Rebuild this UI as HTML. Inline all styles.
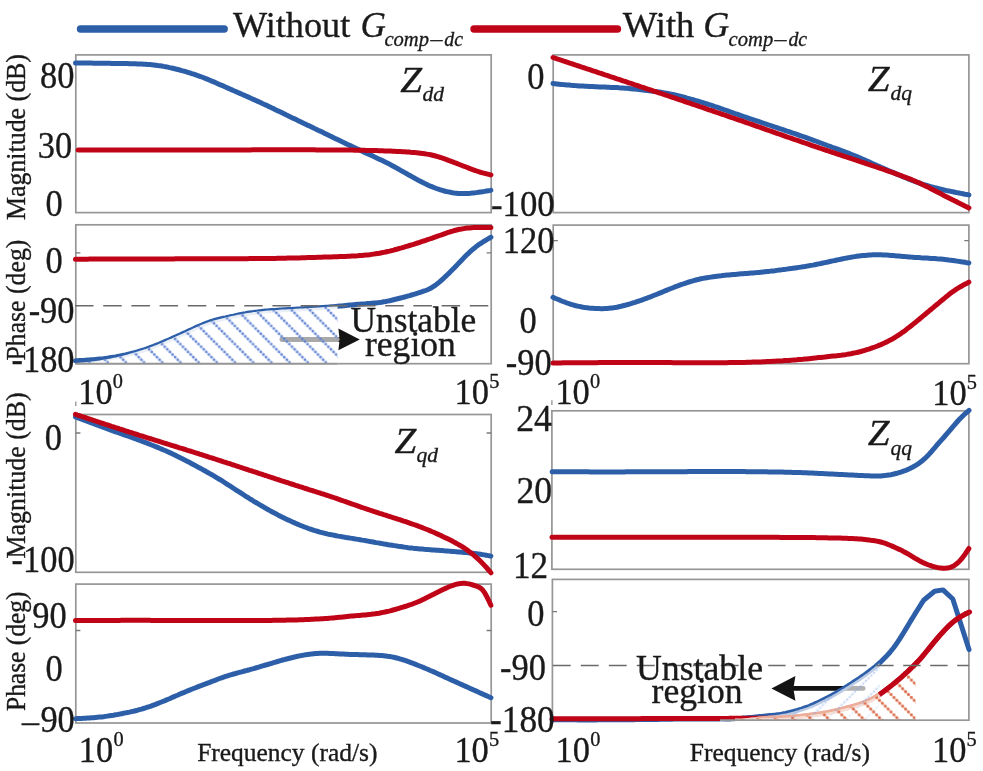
<!DOCTYPE html>
<html lang="en">
<head>
<meta charset="utf-8">
<title>Bode plots of impedance matrix</title>
<style>html,body{margin:0;padding:0;background:#fff}svg{display:block}</style>
</head>
<body>
<svg width="983" height="771" viewBox="0 0 983 771" font-family="'Liberation Serif', serif" fill="#1a1a1a">
<defs>
<pattern id="hb" patternUnits="userSpaceOnUse" x="18.00" y="0" width="18.18" height="18.18"><path d="M-18.18 0L0.00 18.18" stroke="#7d9fe2" stroke-width="3.1" opacity="0.28" fill="none"/><path d="M0.00 0L18.18 18.18" stroke="#7d9fe2" stroke-width="3.1" opacity="0.28" fill="none"/><path d="M18.18 0L36.36 18.18" stroke="#7d9fe2" stroke-width="3.1" opacity="0.28" fill="none"/><rect x="0.20" y="0.20" width="2.2" height="2.2" fill="#5577cc" opacity="0.88"/><rect x="2.80" y="2.80" width="2.2" height="2.2" fill="#5577cc" opacity="0.88"/><rect x="5.39" y="5.39" width="2.2" height="2.2" fill="#5577cc" opacity="0.88"/><rect x="7.99" y="7.99" width="2.2" height="2.2" fill="#5577cc" opacity="0.88"/><rect x="10.59" y="10.59" width="2.2" height="2.2" fill="#5577cc" opacity="0.88"/><rect x="13.18" y="13.18" width="2.2" height="2.2" fill="#5577cc" opacity="0.88"/><rect x="15.78" y="15.78" width="2.2" height="2.2" fill="#5577cc" opacity="0.88"/></pattern>
<pattern id="hr" patternUnits="userSpaceOnUse" x="5.10" y="0" width="17.4" height="17.4"><path d="M-17.40 0L0.00 17.40" stroke="#e58a68" stroke-width="2.8" opacity="0.32" fill="none"/><path d="M0.00 0L17.40 17.40" stroke="#e58a68" stroke-width="2.8" opacity="0.32" fill="none"/><path d="M17.40 0L34.80 17.40" stroke="#e58a68" stroke-width="2.8" opacity="0.32" fill="none"/><rect x="0.25" y="0.25" width="2.4" height="2.4" fill="#d65a36" opacity="0.95"/><rect x="3.15" y="3.15" width="2.4" height="2.4" fill="#d65a36" opacity="0.95"/><rect x="6.05" y="6.05" width="2.4" height="2.4" fill="#d65a36" opacity="0.95"/><rect x="8.95" y="8.95" width="2.4" height="2.4" fill="#d65a36" opacity="0.95"/><rect x="11.85" y="11.85" width="2.4" height="2.4" fill="#d65a36" opacity="0.95"/><rect x="14.75" y="14.75" width="2.4" height="2.4" fill="#d65a36" opacity="0.95"/></pattern>
<pattern id="hb2" patternUnits="userSpaceOnUse" x="5.10" y="0" width="18.8" height="18.8"><path d="M-18.80 18.80L0.00 0" stroke="#9db8ec" stroke-width="2.8" opacity="0.1" fill="none"/><path d="M0.00 18.80L18.80 0" stroke="#9db8ec" stroke-width="2.8" opacity="0.1" fill="none"/><path d="M18.80 18.80L37.60 0" stroke="#9db8ec" stroke-width="2.8" opacity="0.1" fill="none"/><rect x="0.44" y="16.56" width="1.8" height="1.8" fill="#7d9fe2" opacity="0.42"/><rect x="3.13" y="13.87" width="1.8" height="1.8" fill="#7d9fe2" opacity="0.42"/><rect x="5.81" y="11.19" width="1.8" height="1.8" fill="#7d9fe2" opacity="0.42"/><rect x="8.50" y="8.50" width="1.8" height="1.8" fill="#7d9fe2" opacity="0.42"/><rect x="11.19" y="5.81" width="1.8" height="1.8" fill="#7d9fe2" opacity="0.42"/><rect x="13.87" y="3.13" width="1.8" height="1.8" fill="#7d9fe2" opacity="0.42"/><rect x="16.56" y="0.44" width="1.8" height="1.8" fill="#7d9fe2" opacity="0.42"/></pattern>
</defs>
<rect x="0" y="0" width="983" height="771" fill="#ffffff"/>
<line x1="80.5" y1="29.0" x2="224.2" y2="29.0" stroke="#2d5fa9" stroke-width="7.4" stroke-linecap="round"/>
<line x1="474" y1="29.0" x2="617.5" y2="29.0" stroke="#c00418" stroke-width="7.4" stroke-linecap="round"/>
<text x="233.0" y="36.9" font-size="36.8" textLength="117.2" lengthAdjust="spacingAndGlyphs" stroke="#1a1a1a" stroke-width="0.35">Without</text>
<text x="360.6" y="36.9" font-size="36.8" font-style="italic" textLength="25.4" lengthAdjust="spacingAndGlyphs" stroke="#1a1a1a" stroke-width="0.35">G</text>
<text x="384.4" y="45.9" font-size="22" font-style="italic" textLength="44.6" lengthAdjust="spacingAndGlyphs" stroke="#1a1a1a" stroke-width="0.35">comp</text>
<text x="430.4" y="45.9" font-size="22" font-style="italic" textLength="12.0" lengthAdjust="spacingAndGlyphs" stroke="#1a1a1a" stroke-width="0.35">–</text>
<text x="444.2" y="45.9" font-size="22" font-style="italic" textLength="18.8" lengthAdjust="spacingAndGlyphs" stroke="#1a1a1a" stroke-width="0.35">dc</text>
<text x="728.5999999999999" y="45.6" font-size="22" font-style="italic" textLength="44.6" lengthAdjust="spacingAndGlyphs" stroke="#1a1a1a" stroke-width="0.35">comp</text>
<text x="774.5999999999999" y="45.6" font-size="22" font-style="italic" textLength="12.0" lengthAdjust="spacingAndGlyphs" stroke="#1a1a1a" stroke-width="0.35">–</text>
<text x="788.4" y="45.6" font-size="22" font-style="italic" textLength="18.8" lengthAdjust="spacingAndGlyphs" stroke="#1a1a1a" stroke-width="0.35">dc</text>
<text x="622.8" y="37.0" font-size="36.5" textLength="71.6" lengthAdjust="spacingAndGlyphs" stroke="#1a1a1a" stroke-width="0.35">With</text>
<text x="703.2" y="37.0" font-size="36.8" font-style="italic" textLength="26.0" lengthAdjust="spacingAndGlyphs" stroke="#1a1a1a" stroke-width="0.35">G</text>
<rect x="75.8" y="54.9" width="415.4" height="157.7" fill="none" stroke="#969696" stroke-width="1.7"/>
<rect x="75.8" y="224.8" width="415.4" height="138.9" fill="none" stroke="#969696" stroke-width="1.7"/>
<rect x="75.8" y="414.5" width="415.4" height="157.8" fill="none" stroke="#969696" stroke-width="1.7"/>
<rect x="75.8" y="584.1" width="415.4" height="138.9" fill="none" stroke="#969696" stroke-width="1.7"/>
<rect x="553.2" y="54.9" width="415.7" height="157.7" fill="none" stroke="#969696" stroke-width="1.7"/>
<rect x="553.2" y="225.1" width="415.7" height="138.6" fill="none" stroke="#969696" stroke-width="1.7"/>
<rect x="551.9" y="410.8" width="417.0" height="158.5" fill="none" stroke="#969696" stroke-width="1.7"/>
<rect x="552.4" y="579.4" width="416.5" height="140.8" fill="none" stroke="#969696" stroke-width="1.7"/>
<path d="M75.8 252.8h4.6M491.2 252.8h-4.6" stroke="#7a7a7a" stroke-width="1.3" fill="none"/>
<path d="M75.8 433.0h4.6M491.2 433.0h-4.6" stroke="#7a7a7a" stroke-width="1.3" fill="none"/>
<path d="M75.8 630.5h4.6M491.2 630.5h-4.6" stroke="#7a7a7a" stroke-width="1.3" fill="none"/>
<path d="M553.2 240.7h4.6M968.9 240.7h-4.6" stroke="#7a7a7a" stroke-width="1.3" fill="none"/>
<path d="M552.4 611.7h4.6M968.9 611.7h-4.6" stroke="#7a7a7a" stroke-width="1.3" fill="none"/>
<path d="M75.8 401.4v4.6M551.9 400.3v4.6" stroke="#8a8a8a" stroke-width="1.2" fill="none"/>
<line x1="281.9" y1="339.5" x2="340" y2="339.5" stroke="#111" stroke-width="4.8" stroke-linecap="round"/>
<line x1="794" y1="688.4" x2="863.2" y2="688.4" stroke="#111" stroke-width="4.7" stroke-linecap="round"/>
<path d="M75.5 63.0L77.5 63.0L79.5 63.0L81.5 63.1L83.5 63.1L85.5 63.1L87.5 63.1L89.5 63.1L91.5 63.1L93.5 63.2L95.5 63.2L97.6 63.2L99.6 63.2L101.6 63.2L103.6 63.3L105.6 63.3L107.6 63.3L109.6 63.3L111.6 63.4L113.6 63.4L115.6 63.4L117.6 63.4L119.6 63.5L121.6 63.5L123.6 63.5L125.6 63.6L127.6 63.6L129.6 63.7L131.6 63.7L133.6 63.8L135.6 63.8L137.6 63.9L139.7 64.0L141.7 64.1L143.7 64.2L145.7 64.3L147.7 64.5L149.7 64.6L151.7 64.8L153.7 65.0L155.7 65.2L157.7 65.5L159.7 65.7L161.7 66.0L163.7 66.4L165.7 66.7L167.7 67.1L169.7 67.6L171.7 68.0L173.7 68.5L175.7 69.0L177.7 69.5L179.8 70.0L181.8 70.6L183.8 71.1L185.8 71.7L187.8 72.3L189.8 72.9L191.8 73.6L193.8 74.2L195.8 74.9L197.8 75.6L199.8 76.3L201.8 77.0L203.8 77.8L205.8 78.6L207.8 79.4L209.8 80.2L211.8 81.1L213.8 81.9L215.8 82.8L217.8 83.7L219.8 84.6L221.9 85.4L223.9 86.3L225.9 87.2L227.9 88.1L229.9 89.0L231.9 89.9L233.9 90.8L235.9 91.6L237.9 92.5L239.9 93.4L241.9 94.3L243.9 95.1L245.9 96.0L247.9 96.9L249.9 97.8L251.9 98.7L253.9 99.6L255.9 100.5L257.9 101.4L259.9 102.3L261.9 103.3L264.0 104.2L266.0 105.1L268.0 106.1L270.0 107.0L272.0 108.0L274.0 108.9L276.0 109.9L278.0 110.9L280.0 111.8L282.0 112.8L284.0 113.8L286.0 114.8L288.0 115.7L290.0 116.7L292.0 117.7L294.0 118.6L296.0 119.6L298.0 120.6L300.0 121.5L302.0 122.5L304.0 123.5L306.1 124.4L308.1 125.4L310.1 126.3L312.1 127.3L314.1 128.3L316.1 129.2L318.1 130.2L320.1 131.1L322.1 132.1L324.1 133.1L326.1 134.0L328.1 135.0L330.1 136.0L332.1 136.9L334.1 137.9L336.1 138.9L338.1 139.8L340.1 140.8L342.1 141.8L344.1 142.7L346.1 143.7L348.2 144.7L350.2 145.6L352.2 146.6L354.2 147.5L356.2 148.5L358.2 149.4L360.2 150.3L362.2 151.2L364.2 152.2L366.2 153.1L368.2 154.0L370.2 154.9L372.2 155.8L374.2 156.8L376.2 157.7L378.2 158.7L380.2 159.6L382.2 160.6L384.2 161.6L386.2 162.6L388.3 163.6L390.3 164.6L392.3 165.7L394.3 166.8L396.3 167.9L398.3 169.0L400.3 170.1L402.3 171.3L404.3 172.4L406.3 173.5L408.3 174.7L410.3 175.8L412.3 176.9L414.3 178.0L416.3 179.1L418.3 180.2L420.3 181.2L422.3 182.3L424.3 183.3L426.3 184.2L428.3 185.2L430.4 186.1L432.4 186.9L434.4 187.7L436.4 188.5L438.4 189.2L440.4 189.8L442.4 190.4L444.4 191.0L446.4 191.5L448.4 191.9L450.4 192.3L452.4 192.7L454.4 193.0L456.4 193.2L458.4 193.4L460.4 193.5L462.4 193.6L464.4 193.6L466.4 193.6L468.4 193.4L470.4 193.3L472.5 193.1L474.5 192.9L476.5 192.6L478.5 192.3L480.5 192.0L482.5 191.7L484.5 191.4L486.5 191.0L488.5 190.7L490.5 190.4L490.9 190.3" fill="none" stroke="#2d5fa9" stroke-width="5.0" stroke-linecap="round" stroke-linejoin="round"/>
<path d="M78.2 150.0L80.2 150.0L82.2 150.0L84.2 150.0L86.2 150.0L88.2 150.0L90.2 150.0L92.2 150.0L94.2 150.0L96.2 150.0L98.2 150.0L100.2 150.0L102.2 150.0L104.2 150.0L106.2 150.0L108.2 150.0L110.2 150.0L112.2 150.0L114.2 150.0L116.2 150.0L118.2 150.0L120.3 150.0L122.3 150.0L124.3 150.0L126.3 150.0L128.3 150.0L130.3 150.0L132.3 150.0L134.3 150.1L136.3 150.1L138.3 150.1L140.3 150.1L142.3 150.1L144.3 150.1L146.3 150.1L148.3 150.1L150.3 150.1L152.3 150.1L154.3 150.1L156.3 150.1L158.3 150.1L160.3 150.1L162.3 150.1L164.3 150.0L166.3 150.0L168.3 150.0L170.3 150.0L172.3 150.0L174.3 150.0L176.3 150.0L178.3 150.0L180.3 150.0L182.3 150.0L184.3 150.0L186.3 150.0L188.3 150.0L190.3 150.0L192.3 150.0L194.3 150.0L196.3 150.0L198.3 150.0L200.3 150.0L202.3 150.0L204.4 150.0L206.4 150.0L208.4 150.0L210.4 150.0L212.4 150.0L214.4 150.0L216.4 150.0L218.4 150.0L220.4 149.9L222.4 149.9L224.4 149.9L226.4 149.9L228.4 149.9L230.4 149.9L232.4 149.9L234.4 149.9L236.4 149.9L238.4 149.9L240.4 149.9L242.4 149.9L244.4 149.9L246.4 149.9L248.4 149.9L250.4 149.9L252.4 149.8L254.4 149.8L256.4 149.8L258.4 149.8L260.4 149.8L262.4 149.8L264.4 149.8L266.4 149.8L268.4 149.8L270.4 149.8L272.4 149.8L274.4 149.8L276.4 149.8L278.4 149.8L280.4 149.8L282.4 149.8L284.4 149.8L286.5 149.8L288.5 149.8L290.5 149.8L292.5 149.8L294.5 149.8L296.5 149.8L298.5 149.8L300.5 149.8L302.5 149.8L304.5 149.8L306.5 149.8L308.5 149.8L310.5 149.8L312.5 149.8L314.5 149.8L316.5 149.9L318.5 149.9L320.5 149.9L322.5 149.9L324.5 149.9L326.5 149.9L328.5 149.9L330.5 149.9L332.5 149.9L334.5 150.0L336.5 150.0L338.5 150.0L340.5 150.0L342.5 150.0L344.5 150.0L346.5 150.1L348.5 150.1L350.5 150.1L352.5 150.1L354.5 150.2L356.5 150.2L358.5 150.2L360.5 150.2L362.5 150.3L364.5 150.3L366.5 150.4L368.6 150.4L370.6 150.4L372.6 150.5L374.6 150.5L376.6 150.6L378.6 150.7L380.6 150.7L382.6 150.8L384.6 150.9L386.6 150.9L388.6 151.0L390.6 151.1L392.6 151.2L394.6 151.3L396.6 151.4L398.6 151.5L400.6 151.6L402.6 151.7L404.6 151.8L406.6 152.0L408.6 152.1L410.6 152.3L412.6 152.4L414.6 152.6L416.6 152.8L418.6 153.0L420.6 153.2L422.6 153.5L424.6 153.8L426.6 154.1L428.6 154.4L430.6 154.8L432.6 155.3L434.6 155.8L436.6 156.3L438.6 156.9L440.6 157.5L442.6 158.2L444.6 158.9L446.6 159.6L448.6 160.4L450.6 161.1L452.7 161.9L454.7 162.7L456.7 163.4L458.7 164.2L460.7 165.0L462.7 165.8L464.7 166.5L466.7 167.3L468.7 168.1L470.7 168.9L472.7 169.6L474.7 170.3L476.7 171.0L478.7 171.7L480.7 172.3L482.7 172.9L484.7 173.4L486.7 173.9L488.7 174.4L490.7 174.9L490.9 175.0" fill="none" stroke="#c00418" stroke-width="5.0" stroke-linecap="round" stroke-linejoin="round"/>
<path d="M75.5 259.2L77.5 259.2L79.5 259.2L81.5 259.2L83.5 259.2L85.5 259.2L87.5 259.2L89.5 259.1L91.5 259.1L93.5 259.1L95.5 259.1L97.5 259.1L99.5 259.1L101.5 259.1L103.5 259.1L105.5 259.1L107.5 259.1L109.5 259.1L111.5 259.1L113.5 259.0L115.5 259.0L117.5 259.0L119.5 259.0L121.5 259.0L123.5 259.0L125.5 259.0L127.5 259.0L129.5 259.0L131.5 259.0L133.5 259.0L135.5 259.0L137.5 259.0L139.5 259.0L141.5 258.9L143.5 258.9L145.5 258.9L147.5 258.9L149.5 258.9L151.5 258.9L153.5 258.9L155.5 258.9L157.5 258.9L159.5 258.9L161.5 258.9L163.5 258.9L165.5 258.9L167.5 258.9L169.5 258.9L171.5 258.9L173.5 258.9L175.5 258.8L177.5 258.8L179.5 258.8L181.5 258.8L183.5 258.8L185.5 258.8L187.5 258.8L189.5 258.8L191.5 258.8L193.5 258.8L195.5 258.8L197.5 258.8L199.5 258.8L201.5 258.8L203.5 258.8L205.5 258.8L207.5 258.8L209.5 258.8L211.5 258.8L213.5 258.8L215.5 258.8L217.5 258.8L219.5 258.8L221.5 258.8L223.5 258.8L225.5 258.8L227.5 258.8L229.5 258.7L231.5 258.7L233.5 258.7L235.5 258.7L237.5 258.7L239.5 258.7L241.5 258.7L243.5 258.7L245.5 258.7L247.5 258.7L249.5 258.6L251.5 258.6L253.5 258.6L255.5 258.6L257.5 258.6L259.5 258.6L261.5 258.5L263.5 258.5L265.5 258.5L267.5 258.5L269.5 258.4L271.5 258.4L273.5 258.4L275.5 258.4L277.5 258.3L279.5 258.3L281.5 258.3L283.6 258.2L285.6 258.2L287.6 258.1L289.6 258.1L291.6 258.1L293.6 258.0L295.6 258.0L297.6 257.9L299.6 257.9L301.6 257.8L303.6 257.7L305.6 257.7L307.6 257.6L309.6 257.6L311.6 257.5L313.6 257.5L315.6 257.4L317.6 257.3L319.6 257.3L321.6 257.2L323.6 257.1L325.6 257.1L327.6 257.0L329.6 257.0L331.6 256.9L333.6 256.8L335.6 256.8L337.6 256.7L339.6 256.6L341.6 256.6L343.6 256.5L345.6 256.4L347.6 256.3L349.6 256.2L351.6 256.1L353.6 256.0L355.6 255.9L357.6 255.8L359.6 255.6L361.6 255.5L363.6 255.3L365.6 255.1L367.6 254.9L369.6 254.7L371.6 254.4L373.6 254.1L375.6 253.8L377.6 253.5L379.6 253.2L381.6 252.8L383.6 252.4L385.6 252.0L387.6 251.5L389.6 251.1L391.6 250.6L393.6 250.1L395.6 249.5L397.6 249.0L399.6 248.4L401.6 247.9L403.6 247.3L405.6 246.7L407.6 246.1L409.6 245.5L411.6 244.9L413.6 244.3L415.6 243.6L417.6 243.0L419.6 242.4L421.6 241.7L423.6 241.0L425.6 240.4L427.6 239.7L429.6 239.0L431.6 238.3L433.6 237.6L435.6 236.9L437.6 236.2L439.6 235.5L441.6 234.8L443.6 234.1L445.6 233.4L447.6 232.7L449.6 232.0L451.6 231.4L453.6 230.8L455.6 230.3L457.6 229.8L459.6 229.3L461.6 229.0L463.6 228.6L465.6 228.3L467.6 228.1L469.6 227.9L471.6 227.7L473.6 227.6L475.6 227.5L477.6 227.4L479.6 227.4L481.6 227.4L483.6 227.4L485.6 227.4L487.6 227.4L489.6 227.4L490.9 227.4" fill="none" stroke="#c00418" stroke-width="5.0" stroke-linecap="round" stroke-linejoin="round"/>
<path d="M75.5 360.8L77.5 360.7L79.5 360.6L81.5 360.5L83.5 360.4L85.5 360.2L87.5 360.1L89.5 360.0L91.5 359.8L93.5 359.7L95.5 359.5L97.5 359.3L99.5 359.1L101.5 358.9L103.5 358.7L105.5 358.4L107.5 358.1L109.5 357.8L111.5 357.5L113.5 357.2L115.5 356.9L117.5 356.5L119.5 356.1L121.5 355.7L123.5 355.3L125.5 354.9L127.5 354.4L129.5 353.9L131.5 353.4L133.5 352.9L135.5 352.4L137.5 351.8L139.5 351.2L141.5 350.6L143.5 350.0L145.5 349.3L147.5 348.6L149.5 347.9L151.5 347.1L153.5 346.4L155.5 345.6L157.5 344.8L159.5 344.0L161.5 343.1L163.5 342.3L165.5 341.4L167.5 340.6L169.5 339.7L171.5 338.8L173.5 337.9L175.5 337.0L177.5 336.1L179.5 335.2L181.5 334.3L183.5 333.4L185.5 332.5L187.5 331.5L189.5 330.6L191.5 329.7L193.5 328.8L195.5 327.8L197.5 326.9L199.5 326.1L201.5 325.2L203.5 324.4L205.5 323.6L207.5 322.8L209.5 322.1L211.5 321.4L213.5 320.8L215.5 320.3L217.5 319.8L219.5 319.3L221.5 318.8L223.5 318.3L225.5 317.9L227.5 317.4L229.5 317.0L231.5 316.5L233.5 316.1L235.5 315.6L237.5 315.2L239.5 314.8L241.5 314.4L243.5 314.0L245.5 313.7L247.5 313.3L249.5 313.0L251.5 312.7L253.5 312.5L255.5 312.2L257.5 312.0L259.5 311.7L261.5 311.5L263.5 311.3L265.5 311.1L267.5 311.0L269.5 310.8L271.5 310.6L273.5 310.5L275.5 310.4L277.5 310.2L279.5 310.1L281.5 310.0L283.6 309.8L285.6 309.7L287.6 309.6L289.6 309.5L291.6 309.4L293.6 309.3L295.6 309.2L297.6 309.0L299.6 308.9L301.6 308.8L303.6 308.7L305.6 308.6L307.6 308.5L309.6 308.3L311.6 308.2L313.6 308.1L315.6 308.0L317.6 307.9L319.6 307.7L321.6 307.6L323.6 307.5L325.6 307.3L327.6 307.2L329.6 307.0L331.6 306.8L333.6 306.7L335.6 306.5L337.6 306.3L339.6 306.1L341.6 305.9L343.6 305.7L345.6 305.5L347.6 305.3L349.6 305.1L351.6 304.9L353.6 304.7L355.6 304.5L357.6 304.3L359.6 304.2L361.6 304.0L363.6 303.9L365.6 303.8L367.6 303.6L369.6 303.5L371.6 303.3L373.6 303.1L375.6 302.9L377.6 302.7L379.6 302.5L381.6 302.2L383.6 301.8L385.6 301.5L387.6 301.1L389.6 300.7L391.6 300.3L393.6 299.8L395.6 299.3L397.6 298.8L399.6 298.3L401.6 297.8L403.6 297.2L405.6 296.7L407.6 296.1L409.6 295.6L411.6 295.0L413.6 294.4L415.6 293.8L417.6 293.2L419.6 292.5L421.6 291.9L423.6 291.2L425.6 290.5L427.6 289.7L429.6 288.8L431.6 287.7L433.6 286.4L435.6 285.1L437.6 283.5L439.6 281.9L441.6 280.1L443.6 278.3L445.6 276.4L447.6 274.5L449.6 272.6L451.6 270.6L453.6 268.6L455.6 266.5L457.6 264.4L459.6 262.3L461.6 260.2L463.6 258.1L465.6 256.1L467.6 254.1L469.6 252.2L471.6 250.4L473.6 248.7L475.6 247.1L477.6 245.6L479.6 244.1L481.6 242.8L483.6 241.5L485.6 240.3L487.6 239.1L489.6 238.0L490.9 237.3" fill="none" stroke="#2d5fa9" stroke-width="5.0" stroke-linecap="round" stroke-linejoin="round"/>
<path d="M75.5 417.0L77.5 417.7L79.5 418.5L81.5 419.2L83.5 419.9L85.5 420.7L87.5 421.4L89.5 422.1L91.5 422.9L93.5 423.6L95.5 424.4L97.5 425.1L99.6 425.9L101.6 426.6L103.6 427.4L105.6 428.1L107.6 428.9L109.6 429.6L111.6 430.4L113.6 431.1L115.6 431.8L117.6 432.5L119.6 433.2L121.6 433.9L123.6 434.6L125.6 435.3L127.6 436.0L129.6 436.7L131.6 437.4L133.6 438.1L135.6 438.8L137.6 439.6L139.6 440.3L141.6 441.1L143.6 441.8L145.7 442.6L147.7 443.4L149.7 444.2L151.7 445.0L153.7 445.8L155.7 446.6L157.7 447.4L159.7 448.3L161.7 449.1L163.7 450.0L165.7 450.8L167.7 451.7L169.7 452.6L171.7 453.5L173.7 454.5L175.7 455.4L177.7 456.4L179.7 457.4L181.7 458.4L183.7 459.5L185.7 460.5L187.7 461.6L189.7 462.6L191.8 463.7L193.8 464.8L195.8 465.9L197.8 467.0L199.8 468.0L201.8 469.1L203.8 470.2L205.8 471.3L207.8 472.5L209.8 473.6L211.8 474.7L213.8 475.9L215.8 477.1L217.8 478.3L219.8 479.5L221.8 480.7L223.8 482.0L225.8 483.3L227.8 484.6L229.8 485.8L231.8 487.2L233.8 488.5L235.8 489.8L237.9 491.1L239.9 492.4L241.9 493.7L243.9 495.0L245.9 496.3L247.9 497.5L249.9 498.8L251.9 500.0L253.9 501.3L255.9 502.5L257.9 503.7L259.9 504.9L261.9 506.0L263.9 507.2L265.9 508.3L267.9 509.5L269.9 510.6L271.9 511.7L273.9 512.8L275.9 513.8L277.9 514.9L279.9 515.9L281.9 516.9L284.0 517.9L286.0 518.9L288.0 519.9L290.0 520.8L292.0 521.7L294.0 522.6L296.0 523.5L298.0 524.4L300.0 525.2L302.0 526.0L304.0 526.8L306.0 527.5L308.0 528.3L310.0 529.0L312.0 529.6L314.0 530.3L316.0 530.9L318.0 531.5L320.0 532.1L322.0 532.6L324.0 533.1L326.0 533.6L328.0 534.1L330.0 534.5L332.1 534.9L334.1 535.3L336.1 535.7L338.1 536.1L340.1 536.4L342.1 536.8L344.1 537.1L346.1 537.5L348.1 537.8L350.1 538.1L352.1 538.4L354.1 538.8L356.1 539.1L358.1 539.4L360.1 539.7L362.1 540.1L364.1 540.4L366.1 540.8L368.1 541.1L370.1 541.5L372.1 541.8L374.1 542.2L376.1 542.6L378.2 542.9L380.2 543.3L382.2 543.6L384.2 544.0L386.2 544.3L388.2 544.7L390.2 545.0L392.2 545.3L394.2 545.6L396.2 545.9L398.2 546.3L400.2 546.5L402.2 546.8L404.2 547.1L406.2 547.4L408.2 547.7L410.2 547.9L412.2 548.1L414.2 548.4L416.2 548.6L418.2 548.8L420.2 549.0L422.2 549.1L424.3 549.3L426.3 549.4L428.3 549.6L430.3 549.7L432.3 549.9L434.3 550.0L436.3 550.2L438.3 550.3L440.3 550.5L442.3 550.6L444.3 550.8L446.3 550.9L448.3 551.1L450.3 551.2L452.3 551.4L454.3 551.6L456.3 551.7L458.3 551.9L460.3 552.1L462.3 552.2L464.3 552.4L466.3 552.6L468.3 552.8L470.4 553.0L472.4 553.2L474.4 553.4L476.4 553.7L478.4 554.0L480.4 554.3L482.4 554.6L484.4 554.9L486.4 555.3L488.4 555.6L490.4 556.0L490.9 556.1" fill="none" stroke="#2d5fa9" stroke-width="5.0" stroke-linecap="round" stroke-linejoin="round"/>
<path d="M75.5 414.4L77.5 415.1L79.5 415.7L81.5 416.4L83.5 417.0L85.5 417.7L87.5 418.4L89.5 419.0L91.5 419.7L93.5 420.3L95.5 421.0L97.5 421.7L99.5 422.3L101.5 423.0L103.5 423.6L105.5 424.3L107.5 424.9L109.5 425.6L111.5 426.3L113.5 426.9L115.5 427.6L117.5 428.2L119.5 428.9L121.5 429.5L123.5 430.1L125.5 430.8L127.5 431.4L129.5 432.1L131.5 432.7L133.5 433.4L135.5 434.0L137.5 434.6L139.5 435.3L141.5 435.9L143.5 436.5L145.5 437.2L147.5 437.8L149.5 438.4L151.5 439.0L153.5 439.7L155.5 440.3L157.5 440.9L159.5 441.5L161.5 442.2L163.5 442.8L165.5 443.4L167.5 444.0L169.5 444.7L171.5 445.3L173.5 445.9L175.5 446.5L177.5 447.1L179.5 447.8L181.6 448.4L183.6 449.0L185.6 449.6L187.6 450.3L189.6 450.9L191.6 451.5L193.6 452.2L195.6 452.8L197.6 453.4L199.6 454.1L201.6 454.7L203.6 455.3L205.6 456.0L207.6 456.6L209.6 457.3L211.6 457.9L213.6 458.5L215.6 459.2L217.6 459.8L219.6 460.5L221.6 461.1L223.6 461.8L225.6 462.4L227.6 463.1L229.6 463.7L231.6 464.4L233.6 465.0L235.6 465.7L237.6 466.3L239.6 467.0L241.6 467.7L243.6 468.3L245.6 469.0L247.6 469.6L249.6 470.3L251.6 470.9L253.6 471.6L255.6 472.2L257.6 472.9L259.6 473.6L261.6 474.2L263.6 474.9L265.6 475.5L267.6 476.2L269.6 476.8L271.6 477.5L273.6 478.1L275.6 478.8L277.6 479.5L279.6 480.1L281.6 480.8L283.6 481.4L285.6 482.1L287.6 482.7L289.6 483.4L291.6 484.0L293.6 484.6L295.6 485.3L297.6 485.9L299.6 486.6L301.6 487.2L303.6 487.9L305.6 488.5L307.6 489.1L309.6 489.8L311.6 490.4L313.6 491.0L315.6 491.7L317.6 492.3L319.6 492.9L321.6 493.6L323.6 494.2L325.6 494.9L327.6 495.5L329.6 496.2L331.6 496.8L333.6 497.5L335.6 498.2L337.6 498.9L339.6 499.6L341.6 500.3L343.6 501.0L345.6 501.7L347.6 502.4L349.6 503.1L351.6 503.8L353.6 504.5L355.6 505.2L357.6 505.9L359.6 506.6L361.6 507.3L363.6 508.0L365.6 508.7L367.6 509.3L369.6 510.0L371.6 510.7L373.6 511.3L375.6 512.0L377.6 512.6L379.6 513.3L381.6 513.9L383.6 514.6L385.6 515.2L387.6 515.9L389.7 516.5L391.7 517.2L393.7 517.8L395.7 518.4L397.7 519.1L399.7 519.7L401.7 520.4L403.7 521.1L405.7 521.7L407.7 522.4L409.7 523.1L411.7 523.8L413.7 524.5L415.7 525.2L417.7 525.9L419.7 526.7L421.7 527.4L423.7 528.2L425.7 529.0L427.7 529.8L429.7 530.6L431.7 531.5L433.7 532.3L435.7 533.2L437.7 534.1L439.7 535.0L441.7 535.9L443.7 536.9L445.7 537.9L447.7 538.8L449.7 539.8L451.7 540.8L453.7 541.9L455.7 543.0L457.7 544.1L459.7 545.2L461.7 546.4L463.7 547.7L465.7 549.0L467.7 550.4L469.7 551.9L471.7 553.4L473.7 555.1L475.7 556.8L477.7 558.6L479.7 560.5L481.7 562.5L483.7 564.6L485.7 566.7L487.7 569.0L489.7 571.3L490.9 572.8" fill="none" stroke="#c00418" stroke-width="5.0" stroke-linecap="round" stroke-linejoin="round"/>
<path d="M75.5 620.4L77.5 620.4L79.5 620.4L81.5 620.4L83.5 620.4L85.5 620.4L87.5 620.4L89.5 620.4L91.5 620.4L93.5 620.4L95.5 620.4L97.5 620.4L99.5 620.4L101.5 620.4L103.5 620.4L105.5 620.4L107.5 620.4L109.5 620.4L111.4 620.4L113.4 620.4L115.4 620.4L117.4 620.4L119.4 620.4L121.4 620.3L123.4 620.3L125.4 620.3L127.4 620.3L129.4 620.3L131.4 620.3L133.4 620.3L135.4 620.3L137.4 620.3L139.4 620.3L141.4 620.3L143.4 620.3L145.4 620.3L147.4 620.3L149.4 620.3L151.4 620.4L153.4 620.4L155.4 620.4L157.4 620.4L159.4 620.4L161.4 620.4L163.4 620.4L165.4 620.4L167.4 620.4L169.4 620.4L171.4 620.4L173.4 620.4L175.4 620.4L177.4 620.4L179.3 620.4L181.3 620.4L183.3 620.4L185.3 620.4L187.3 620.4L189.3 620.4L191.3 620.4L193.3 620.4L195.3 620.4L197.3 620.5L199.3 620.5L201.3 620.5L203.3 620.5L205.3 620.5L207.3 620.5L209.3 620.5L211.3 620.5L213.3 620.5L215.3 620.5L217.3 620.5L219.3 620.5L221.3 620.5L223.3 620.5L225.3 620.5L227.3 620.5L229.3 620.5L231.3 620.5L233.3 620.5L235.3 620.5L237.3 620.5L239.3 620.5L241.3 620.5L243.3 620.5L245.3 620.5L247.3 620.5L249.2 620.5L251.2 620.5L253.2 620.5L255.2 620.5L257.2 620.5L259.2 620.5L261.2 620.4L263.2 620.4L265.2 620.4L267.2 620.4L269.2 620.4L271.2 620.4L273.2 620.3L275.2 620.3L277.2 620.3L279.2 620.3L281.2 620.2L283.2 620.2L285.2 620.2L287.2 620.1L289.2 620.1L291.2 620.0L293.2 620.0L295.2 619.9L297.2 619.9L299.2 619.8L301.2 619.7L303.2 619.7L305.2 619.6L307.2 619.5L309.2 619.4L311.2 619.3L313.2 619.2L315.2 619.1L317.2 619.0L319.1 618.9L321.1 618.8L323.1 618.7L325.1 618.5L327.1 618.4L329.1 618.2L331.1 618.1L333.1 617.9L335.1 617.7L337.1 617.5L339.1 617.3L341.1 617.2L343.1 616.9L345.1 616.7L347.1 616.5L349.1 616.3L351.1 616.1L353.1 615.9L355.1 615.7L357.1 615.6L359.1 615.4L361.1 615.2L363.1 615.0L365.1 614.9L367.1 614.7L369.1 614.5L371.1 614.3L373.1 614.0L375.1 613.8L377.1 613.5L379.1 613.2L381.1 612.8L383.1 612.4L385.1 612.0L387.0 611.5L389.0 611.1L391.0 610.6L393.0 610.0L395.0 609.5L397.0 608.9L399.0 608.3L401.0 607.7L403.0 607.1L405.0 606.5L407.0 605.9L409.0 605.2L411.0 604.5L413.0 603.8L415.0 603.0L417.0 602.2L419.0 601.4L421.0 600.5L423.0 599.5L425.0 598.6L427.0 597.6L429.0 596.6L431.0 595.6L433.0 594.6L435.0 593.5L437.0 592.5L439.0 591.5L441.0 590.5L443.0 589.5L445.0 588.6L447.0 587.7L449.0 586.8L451.0 586.0L453.0 585.3L455.0 584.7L456.9 584.1L458.9 583.7L460.9 583.4L462.9 583.3L464.9 583.3L466.9 583.6L468.9 583.9L470.9 584.4L472.9 585.0L474.9 585.6L476.9 586.3L478.9 587.1L480.9 588.4L482.9 590.3L484.9 593.2L486.9 596.8L488.9 600.9L490.9 605.2" fill="none" stroke="#c00418" stroke-width="5.0" stroke-linecap="round" stroke-linejoin="round"/>
<path d="M75.5 718.7L77.5 718.6L79.5 718.5L81.5 718.4L83.5 718.3L85.5 718.2L87.5 718.1L89.5 718.0L91.5 717.8L93.5 717.7L95.5 717.5L97.5 717.3L99.5 717.1L101.5 716.9L103.5 716.7L105.5 716.4L107.5 716.1L109.5 715.8L111.5 715.5L113.5 715.2L115.5 714.8L117.5 714.5L119.5 714.1L121.5 713.7L123.5 713.3L125.5 712.9L127.5 712.5L129.5 712.1L131.5 711.6L133.5 711.2L135.5 710.7L137.5 710.2L139.5 709.6L141.5 709.1L143.5 708.5L145.5 707.9L147.5 707.2L149.5 706.6L151.5 705.9L153.5 705.1L155.5 704.4L157.5 703.6L159.5 702.8L161.5 702.0L163.5 701.2L165.5 700.4L167.5 699.5L169.5 698.7L171.5 697.8L173.5 696.9L175.5 696.0L177.5 695.2L179.5 694.3L181.6 693.4L183.6 692.6L185.6 691.7L187.6 690.9L189.6 690.1L191.6 689.3L193.6 688.5L195.6 687.7L197.6 686.9L199.6 686.1L201.6 685.4L203.6 684.6L205.6 683.9L207.6 683.1L209.6 682.4L211.6 681.6L213.6 680.8L215.6 680.1L217.6 679.3L219.6 678.5L221.6 677.8L223.6 677.1L225.6 676.4L227.6 675.8L229.6 675.2L231.6 674.6L233.6 674.0L235.6 673.5L237.6 672.9L239.6 672.4L241.6 671.9L243.6 671.3L245.6 670.8L247.6 670.2L249.6 669.7L251.6 669.1L253.6 668.6L255.6 668.0L257.6 667.4L259.6 666.8L261.6 666.2L263.6 665.6L265.6 665.0L267.6 664.5L269.6 663.9L271.6 663.3L273.6 662.7L275.6 662.1L277.6 661.5L279.6 660.9L281.6 660.3L283.6 659.8L285.6 659.2L287.6 658.7L289.6 658.2L291.6 657.7L293.6 657.2L295.6 656.7L297.6 656.3L299.6 655.9L301.6 655.5L303.6 655.1L305.6 654.8L307.6 654.5L309.6 654.2L311.6 653.9L313.6 653.7L315.6 653.5L317.6 653.4L319.6 653.3L321.6 653.2L323.6 653.2L325.6 653.2L327.6 653.3L329.6 653.4L331.6 653.5L333.6 653.6L335.6 653.7L337.6 653.8L339.6 653.9L341.6 654.0L343.6 654.1L345.6 654.2L347.6 654.3L349.6 654.4L351.6 654.4L353.6 654.5L355.6 654.6L357.6 654.6L359.6 654.7L361.6 654.7L363.6 654.8L365.6 654.8L367.6 654.9L369.6 654.9L371.6 655.0L373.6 655.1L375.6 655.2L377.6 655.3L379.6 655.4L381.6 655.6L383.6 655.8L385.6 656.0L387.6 656.3L389.7 656.5L391.7 656.9L393.7 657.3L395.7 657.7L397.7 658.2L399.7 658.8L401.7 659.4L403.7 660.0L405.7 660.7L407.7 661.4L409.7 662.1L411.7 662.9L413.7 663.6L415.7 664.4L417.7 665.2L419.7 666.0L421.7 666.8L423.7 667.6L425.7 668.5L427.7 669.3L429.7 670.2L431.7 671.0L433.7 671.9L435.7 672.8L437.7 673.7L439.7 674.6L441.7 675.5L443.7 676.4L445.7 677.4L447.7 678.3L449.7 679.2L451.7 680.1L453.7 681.0L455.7 681.9L457.7 682.8L459.7 683.7L461.7 684.6L463.7 685.5L465.7 686.4L467.7 687.3L469.7 688.2L471.7 689.1L473.7 690.0L475.7 690.9L477.7 691.8L479.7 692.7L481.7 693.6L483.7 694.5L485.7 695.4L487.7 696.3L489.7 697.2L490.9 697.7" fill="none" stroke="#2d5fa9" stroke-width="5.0" stroke-linecap="round" stroke-linejoin="round"/>
<path d="M553.0 83.6L555.0 83.8L557.0 84.0L559.0 84.2L561.0 84.4L563.0 84.6L565.0 84.7L567.0 84.9L569.0 85.1L571.0 85.3L573.0 85.4L575.0 85.6L577.0 85.7L579.0 85.9L581.0 86.0L583.0 86.1L585.0 86.2L587.0 86.3L589.0 86.4L591.0 86.5L593.0 86.6L595.0 86.7L597.0 86.8L599.0 86.9L601.0 87.0L603.0 87.0L605.0 87.1L607.0 87.2L609.0 87.3L611.0 87.4L613.0 87.4L615.0 87.5L617.0 87.6L619.0 87.8L621.0 87.9L623.0 88.0L625.0 88.2L627.0 88.3L629.0 88.5L631.0 88.7L633.0 88.9L635.0 89.1L637.0 89.3L639.0 89.5L641.0 89.7L643.0 90.0L645.0 90.2L647.0 90.4L649.0 90.7L651.0 90.9L653.0 91.2L655.0 91.4L657.0 91.7L659.0 92.0L661.0 92.3L663.0 92.6L665.0 93.0L667.0 93.3L669.0 93.7L671.0 94.1L673.0 94.5L675.0 95.0L677.0 95.5L679.0 96.0L681.0 96.5L683.0 97.0L685.0 97.5L687.0 98.1L689.0 98.6L691.0 99.2L693.0 99.7L695.0 100.3L697.0 100.9L699.0 101.5L701.0 102.1L703.0 102.7L705.0 103.3L707.0 103.9L709.0 104.6L711.0 105.2L713.0 105.9L715.0 106.6L717.0 107.2L719.0 107.9L721.0 108.6L723.0 109.3L725.0 110.0L727.0 110.7L729.0 111.4L731.0 112.2L733.0 112.9L735.0 113.6L737.0 114.2L739.0 114.9L741.0 115.6L743.0 116.3L745.0 117.0L747.0 117.6L749.0 118.3L751.0 119.0L753.0 119.7L755.0 120.3L757.0 121.0L759.0 121.6L761.0 122.3L762.9 123.0L764.9 123.7L766.9 124.3L768.9 125.0L770.9 125.7L772.9 126.3L774.9 127.0L776.9 127.7L778.9 128.4L780.9 129.0L782.9 129.7L784.9 130.4L786.9 131.1L788.9 131.7L790.9 132.4L792.9 133.1L794.9 133.7L796.9 134.4L798.9 135.1L800.9 135.8L802.9 136.5L804.9 137.2L806.9 137.9L808.9 138.6L810.9 139.3L812.9 140.1L814.9 140.8L816.9 141.5L818.9 142.3L820.9 143.0L822.9 143.8L824.9 144.5L826.9 145.3L828.9 146.0L830.9 146.7L832.9 147.5L834.9 148.2L836.9 148.9L838.9 149.6L840.9 150.4L842.9 151.1L844.9 151.9L846.9 152.6L848.9 153.4L850.9 154.2L852.9 155.0L854.9 155.8L856.9 156.6L858.9 157.5L860.9 158.4L862.9 159.2L864.9 160.1L866.9 161.0L868.9 161.9L870.9 162.8L872.9 163.7L874.9 164.6L876.9 165.5L878.9 166.4L880.9 167.3L882.9 168.1L884.9 169.0L886.9 169.9L888.9 170.7L890.9 171.6L892.9 172.4L894.9 173.3L896.9 174.1L898.9 175.0L900.9 175.8L902.9 176.7L904.9 177.5L906.9 178.3L908.9 179.1L910.9 179.9L912.9 180.7L914.9 181.5L916.9 182.2L918.9 182.9L920.9 183.6L922.9 184.3L924.9 184.9L926.9 185.5L928.9 186.1L930.9 186.7L932.9 187.2L934.9 187.8L936.9 188.3L938.9 188.8L940.9 189.2L942.9 189.7L944.9 190.2L946.9 190.6L948.9 191.0L950.9 191.4L952.9 191.8L954.9 192.2L956.9 192.6L958.9 193.0L960.9 193.4L962.9 193.8L964.9 194.2L966.9 194.5L968.9 194.9" fill="none" stroke="#2d5fa9" stroke-width="5.0" stroke-linecap="round" stroke-linejoin="round"/>
<path d="M553.0 57.5L555.0 58.2L557.0 58.8L559.0 59.5L561.0 60.2L563.0 60.8L565.0 61.5L567.0 62.1L569.0 62.8L571.0 63.5L573.0 64.1L575.0 64.8L577.0 65.5L579.0 66.1L581.0 66.8L583.0 67.5L585.0 68.1L587.0 68.8L589.0 69.4L591.0 70.1L593.0 70.8L595.0 71.4L597.0 72.1L599.0 72.8L601.0 73.4L603.0 74.1L605.0 74.8L607.0 75.4L609.0 76.1L611.0 76.8L613.0 77.4L615.0 78.1L617.0 78.8L619.0 79.4L621.0 80.1L623.0 80.8L625.0 81.4L627.0 82.1L629.0 82.8L631.0 83.4L633.0 84.1L635.0 84.8L637.0 85.4L639.0 86.1L641.0 86.8L643.0 87.4L645.0 88.1L647.0 88.8L649.0 89.5L651.0 90.1L653.0 90.8L655.0 91.5L657.0 92.1L659.0 92.8L661.0 93.5L663.0 94.2L665.0 94.8L667.0 95.5L669.0 96.2L671.0 96.9L673.0 97.5L675.0 98.2L677.0 98.9L679.0 99.6L681.0 100.2L683.0 100.9L685.0 101.6L687.0 102.3L689.0 102.9L691.0 103.6L693.0 104.3L695.0 105.0L697.0 105.7L699.0 106.3L701.0 107.0L703.0 107.7L705.0 108.4L707.0 109.1L709.0 109.8L711.0 110.4L713.0 111.1L715.0 111.8L717.0 112.5L719.0 113.2L721.0 113.9L723.0 114.5L725.0 115.2L727.0 115.9L729.0 116.6L731.0 117.3L733.0 118.0L735.0 118.7L737.0 119.4L739.0 120.1L741.0 120.7L743.0 121.4L745.0 122.1L747.0 122.8L749.0 123.5L751.0 124.2L753.0 124.9L755.0 125.6L757.0 126.3L759.0 127.0L761.0 127.7L762.9 128.4L764.9 129.1L766.9 129.8L768.9 130.5L770.9 131.2L772.9 131.9L774.9 132.6L776.9 133.3L778.9 134.0L780.9 134.7L782.9 135.4L784.9 136.1L786.9 136.8L788.9 137.5L790.9 138.2L792.9 138.9L794.9 139.6L796.9 140.2L798.9 140.9L800.9 141.6L802.9 142.3L804.9 143.0L806.9 143.7L808.9 144.4L810.9 145.1L812.9 145.8L814.9 146.5L816.9 147.1L818.9 147.8L820.9 148.5L822.9 149.2L824.9 149.9L826.9 150.5L828.9 151.2L830.9 151.9L832.9 152.5L834.9 153.2L836.9 153.9L838.9 154.5L840.9 155.2L842.9 155.9L844.9 156.5L846.9 157.2L848.9 157.8L850.9 158.5L852.9 159.2L854.9 159.8L856.9 160.5L858.9 161.1L860.9 161.8L862.9 162.5L864.9 163.1L866.9 163.8L868.9 164.5L870.9 165.1L872.9 165.8L874.9 166.5L876.9 167.2L878.9 167.9L880.9 168.5L882.9 169.2L884.9 169.9L886.9 170.6L888.9 171.3L890.9 172.0L892.9 172.7L894.9 173.4L896.9 174.2L898.9 174.9L900.9 175.6L902.9 176.4L904.9 177.1L906.9 177.9L908.9 178.6L910.9 179.4L912.9 180.3L914.9 181.1L916.9 182.0L918.9 182.8L920.9 183.8L922.9 184.7L924.9 185.7L926.9 186.6L928.9 187.6L930.9 188.7L932.9 189.7L934.9 190.7L936.9 191.8L938.9 192.8L940.9 193.8L942.9 194.9L944.9 195.9L946.9 196.9L948.9 197.9L950.9 198.9L952.9 199.9L954.9 201.0L956.9 201.9L958.9 202.9L960.9 203.9L962.9 204.9L964.9 205.9L966.9 206.9L968.9 207.9" fill="none" stroke="#c00418" stroke-width="5.0" stroke-linecap="round" stroke-linejoin="round"/>
<path d="M553.0 362.9L555.0 362.9L557.0 362.9L559.0 362.9L561.0 362.9L563.0 362.8L565.0 362.8L567.0 362.8L569.0 362.8L571.0 362.8L573.0 362.8L575.0 362.8L577.0 362.8L579.0 362.7L581.0 362.7L583.0 362.7L585.0 362.7L587.0 362.7L589.0 362.7L591.0 362.7L593.0 362.7L595.0 362.7L597.0 362.7L599.0 362.6L601.0 362.6L603.0 362.6L605.0 362.6L607.0 362.6L609.0 362.6L611.0 362.6L613.0 362.6L615.0 362.6L617.0 362.6L619.0 362.6L621.0 362.6L623.0 362.6L625.0 362.6L627.0 362.6L629.0 362.6L631.0 362.6L633.0 362.6L635.0 362.6L637.0 362.6L639.0 362.6L641.0 362.6L643.0 362.6L645.0 362.6L647.0 362.6L649.0 362.6L651.0 362.6L653.0 362.6L655.0 362.6L657.0 362.6L659.0 362.6L661.0 362.6L663.0 362.6L665.0 362.6L667.0 362.6L669.0 362.6L671.0 362.6L673.0 362.7L675.0 362.7L677.0 362.7L679.0 362.7L681.0 362.7L683.0 362.7L685.0 362.7L687.0 362.7L689.0 362.7L691.0 362.7L693.0 362.8L695.0 362.8L697.0 362.8L699.0 362.8L701.0 362.8L703.0 362.8L705.0 362.8L707.0 362.8L709.0 362.8L711.0 362.8L713.0 362.8L715.0 362.8L717.0 362.7L719.0 362.7L721.0 362.7L723.0 362.7L725.0 362.7L727.0 362.7L729.0 362.6L731.0 362.6L733.0 362.6L735.0 362.6L737.0 362.5L739.0 362.5L741.0 362.4L743.0 362.4L745.0 362.4L747.0 362.3L749.0 362.3L751.0 362.2L753.0 362.1L755.0 362.1L757.0 362.0L759.0 361.9L761.0 361.9L762.9 361.8L764.9 361.7L766.9 361.6L768.9 361.5L770.9 361.4L772.9 361.3L774.9 361.2L776.9 361.1L778.9 361.0L780.9 360.9L782.9 360.8L784.9 360.6L786.9 360.5L788.9 360.4L790.9 360.2L792.9 360.1L794.9 359.9L796.9 359.8L798.9 359.6L800.9 359.4L802.9 359.3L804.9 359.1L806.9 358.9L808.9 358.7L810.9 358.5L812.9 358.3L814.9 358.1L816.9 357.8L818.9 357.6L820.9 357.4L822.9 357.2L824.9 357.0L826.9 356.7L828.9 356.5L830.9 356.3L832.9 356.1L834.9 355.9L836.9 355.7L838.9 355.4L840.9 355.2L842.9 354.9L844.9 354.7L846.9 354.4L848.9 354.0L850.9 353.7L852.9 353.3L854.9 352.9L856.9 352.5L858.9 352.0L860.9 351.5L862.9 350.9L864.9 350.3L866.9 349.7L868.9 349.1L870.9 348.4L872.9 347.7L874.9 347.0L876.9 346.2L878.9 345.4L880.9 344.6L882.9 343.7L884.9 342.8L886.9 341.9L888.9 340.8L890.9 339.8L892.9 338.7L894.9 337.5L896.9 336.2L898.9 334.9L900.9 333.6L902.9 332.1L904.9 330.7L906.9 329.1L908.9 327.6L910.9 326.0L912.9 324.4L914.9 322.8L916.9 321.1L918.9 319.5L920.9 317.8L922.9 316.1L924.9 314.5L926.9 312.8L928.9 311.2L930.9 309.5L932.9 307.9L934.9 306.2L936.9 304.5L938.9 302.9L940.9 301.2L942.9 299.5L944.9 297.9L946.9 296.2L948.9 294.6L950.9 293.1L952.9 291.6L954.9 290.2L956.9 288.9L958.9 287.7L960.9 286.5L962.9 285.3L964.9 284.2L966.9 283.2L968.9 282.1" fill="none" stroke="#c00418" stroke-width="5.0" stroke-linecap="round" stroke-linejoin="round"/>
<path d="M553.0 297.3L555.0 298.2L557.0 299.0L559.0 299.8L561.0 300.7L563.0 301.5L565.0 302.2L567.0 303.0L569.0 303.7L571.0 304.3L573.0 304.9L575.0 305.5L577.0 306.0L579.0 306.4L581.0 306.8L583.0 307.2L585.0 307.5L587.0 307.7L589.0 308.0L591.0 308.2L593.0 308.3L595.0 308.4L597.0 308.5L599.0 308.6L601.0 308.7L603.0 308.7L605.0 308.6L607.0 308.5L609.0 308.3L611.0 308.1L613.0 307.9L615.0 307.5L617.0 307.2L619.0 306.7L621.0 306.3L623.0 305.8L625.0 305.3L627.0 304.7L629.0 304.2L631.0 303.6L633.0 302.9L635.0 302.3L637.0 301.6L639.0 301.0L641.0 300.3L643.0 299.6L645.0 298.8L647.0 298.1L649.0 297.3L651.0 296.6L653.0 295.8L655.0 295.0L657.0 294.2L659.0 293.4L661.0 292.6L663.0 291.7L665.0 290.9L667.0 290.1L669.0 289.3L671.0 288.5L673.0 287.7L675.0 286.9L677.0 286.2L679.0 285.4L681.0 284.7L683.0 284.0L685.0 283.3L687.0 282.6L689.0 282.0L691.0 281.4L693.0 280.8L695.0 280.2L697.0 279.7L699.0 279.3L701.0 278.8L703.0 278.4L705.0 278.0L707.0 277.7L709.0 277.4L711.0 277.1L713.0 276.8L715.0 276.5L717.0 276.2L719.0 276.0L721.0 275.8L723.0 275.5L725.0 275.3L727.0 275.1L729.0 274.9L731.0 274.7L733.0 274.5L735.0 274.4L737.0 274.2L739.0 274.0L741.0 273.8L743.0 273.7L745.0 273.5L747.0 273.4L749.0 273.2L751.0 273.0L753.0 272.9L755.0 272.7L757.0 272.6L759.0 272.4L761.0 272.2L762.9 272.0L764.9 271.8L766.9 271.6L768.9 271.4L770.9 271.1L772.9 270.9L774.9 270.7L776.9 270.4L778.9 270.1L780.9 269.9L782.9 269.6L784.9 269.4L786.9 269.1L788.9 268.8L790.9 268.6L792.9 268.3L794.9 268.0L796.9 267.7L798.9 267.4L800.9 267.1L802.9 266.8L804.9 266.5L806.9 266.1L808.9 265.8L810.9 265.4L812.9 265.1L814.9 264.7L816.9 264.3L818.9 263.9L820.9 263.5L822.9 263.0L824.9 262.6L826.9 262.2L828.9 261.8L830.9 261.3L832.9 260.9L834.9 260.5L836.9 260.0L838.9 259.6L840.9 259.2L842.9 258.8L844.9 258.4L846.9 258.0L848.9 257.6L850.9 257.3L852.9 256.9L854.9 256.6L856.9 256.3L858.9 256.0L860.9 255.8L862.9 255.6L864.9 255.4L866.9 255.2L868.9 255.0L870.9 254.9L872.9 254.8L874.9 254.8L876.9 254.8L878.9 254.8L880.9 254.8L882.9 254.9L884.9 255.0L886.9 255.1L888.9 255.2L890.9 255.4L892.9 255.5L894.9 255.7L896.9 255.9L898.9 256.0L900.9 256.2L902.9 256.4L904.9 256.6L906.9 256.7L908.9 256.9L910.9 257.1L912.9 257.2L914.9 257.4L916.9 257.5L918.9 257.6L920.9 257.8L922.9 257.9L924.9 258.0L926.9 258.1L928.9 258.2L930.9 258.4L932.9 258.5L934.9 258.6L936.9 258.8L938.9 258.9L940.9 259.1L942.9 259.3L944.9 259.5L946.9 259.7L948.9 260.0L950.9 260.2L952.9 260.5L954.9 260.8L956.9 261.1L958.9 261.4L960.9 261.7L962.9 262.0L964.9 262.3L966.9 262.7L968.9 263.0" fill="none" stroke="#2d5fa9" stroke-width="5.0" stroke-linecap="round" stroke-linejoin="round"/>
<path d="M552.2 471.8L554.2 471.8L556.2 471.8L558.2 471.8L560.2 471.8L562.2 471.8L564.2 471.8L566.2 471.8L568.2 471.8L570.2 471.8L572.2 471.8L574.2 471.8L576.2 471.8L578.2 471.8L580.3 471.8L582.3 471.8L584.3 471.8L586.3 471.8L588.3 471.8L590.3 471.9L592.3 471.9L594.3 471.9L596.3 471.9L598.3 471.9L600.3 471.9L602.3 471.9L604.3 471.9L606.3 471.9L608.3 471.9L610.3 471.9L612.3 471.9L614.3 471.9L616.3 471.9L618.3 471.9L620.3 471.9L622.3 471.9L624.3 471.9L626.3 471.8L628.3 471.8L630.4 471.8L632.4 471.8L634.4 471.8L636.4 471.8L638.4 471.8L640.4 471.8L642.4 471.8L644.4 471.8L646.4 471.8L648.4 471.8L650.4 471.8L652.4 471.8L654.4 471.8L656.4 471.8L658.4 471.8L660.4 471.8L662.4 471.8L664.4 471.7L666.4 471.7L668.4 471.7L670.4 471.7L672.4 471.7L674.4 471.7L676.4 471.7L678.4 471.7L680.4 471.7L682.5 471.7L684.5 471.7L686.5 471.7L688.5 471.6L690.5 471.6L692.5 471.6L694.5 471.6L696.5 471.6L698.5 471.6L700.5 471.6L702.5 471.6L704.5 471.6L706.5 471.6L708.5 471.6L710.5 471.6L712.5 471.6L714.5 471.6L716.5 471.6L718.5 471.6L720.5 471.6L722.5 471.6L724.5 471.6L726.5 471.6L728.5 471.6L730.5 471.6L732.5 471.6L734.6 471.6L736.6 471.6L738.6 471.6L740.6 471.6L742.6 471.6L744.6 471.6L746.6 471.7L748.6 471.7L750.6 471.7L752.6 471.7L754.6 471.7L756.6 471.7L758.6 471.8L760.6 471.8L762.6 471.8L764.6 471.8L766.6 471.8L768.6 471.9L770.6 471.9L772.6 471.9L774.6 472.0L776.6 472.0L778.6 472.0L780.6 472.1L782.6 472.1L784.6 472.2L786.7 472.2L788.7 472.3L790.7 472.3L792.7 472.4L794.7 472.4L796.7 472.5L798.7 472.5L800.7 472.6L802.7 472.7L804.7 472.7L806.7 472.8L808.7 472.9L810.7 473.0L812.7 473.1L814.7 473.2L816.7 473.3L818.7 473.4L820.7 473.5L822.7 473.6L824.7 473.7L826.7 473.8L828.7 473.9L830.7 474.0L832.7 474.1L834.7 474.2L836.7 474.3L838.8 474.4L840.8 474.5L842.8 474.6L844.8 474.7L846.8 474.8L848.8 474.9L850.8 475.0L852.8 475.1L854.8 475.2L856.8 475.3L858.8 475.4L860.8 475.5L862.8 475.6L864.8 475.7L866.8 475.7L868.8 475.8L870.8 475.9L872.8 475.9L874.8 476.0L876.8 476.0L878.8 475.9L880.8 475.9L882.8 475.7L884.8 475.6L886.8 475.3L888.8 475.0L890.9 474.7L892.9 474.3L894.9 473.8L896.9 473.3L898.9 472.7L900.9 472.1L902.9 471.4L904.9 470.7L906.9 469.9L908.9 469.0L910.9 468.0L912.9 467.0L914.9 465.8L916.9 464.6L918.9 463.3L920.9 461.8L922.9 460.2L924.9 458.4L926.9 456.4L928.9 454.4L930.9 452.2L932.9 449.9L934.9 447.6L936.9 445.2L938.9 442.9L940.9 440.6L943.0 438.3L945.0 436.0L947.0 433.6L949.0 431.3L951.0 429.0L953.0 426.7L955.0 424.3L957.0 422.0L959.0 419.8L961.0 417.7L963.0 415.7L965.0 413.8L967.0 412.1L969.0 410.4" fill="none" stroke="#2d5fa9" stroke-width="5.0" stroke-linecap="round" stroke-linejoin="round"/>
<path d="M552.0 537.3L554.0 537.3L556.0 537.3L558.0 537.3L560.0 537.3L562.0 537.3L564.0 537.3L566.0 537.3L568.0 537.3L570.0 537.3L572.0 537.3L574.0 537.3L576.1 537.3L578.1 537.3L580.1 537.3L582.1 537.3L584.1 537.3L586.1 537.3L588.1 537.3L590.1 537.3L592.1 537.3L594.1 537.3L596.1 537.3L598.1 537.3L600.1 537.3L602.1 537.3L604.1 537.3L606.1 537.3L608.1 537.3L610.1 537.3L612.1 537.3L614.1 537.3L616.1 537.3L618.1 537.3L620.1 537.3L622.2 537.3L624.2 537.3L626.2 537.3L628.2 537.3L630.2 537.3L632.2 537.3L634.2 537.3L636.2 537.3L638.2 537.3L640.2 537.3L642.2 537.3L644.2 537.3L646.2 537.3L648.2 537.3L650.2 537.3L652.2 537.3L654.2 537.3L656.2 537.3L658.2 537.3L660.2 537.3L662.2 537.3L664.2 537.3L666.2 537.3L668.3 537.3L670.3 537.3L672.3 537.3L674.3 537.3L676.3 537.3L678.3 537.3L680.3 537.3L682.3 537.3L684.3 537.3L686.3 537.3L688.3 537.3L690.3 537.3L692.3 537.3L694.3 537.3L696.3 537.3L698.3 537.3L700.3 537.3L702.3 537.3L704.3 537.3L706.3 537.3L708.3 537.3L710.3 537.3L712.3 537.3L714.4 537.3L716.4 537.3L718.4 537.3L720.4 537.3L722.4 537.3L724.4 537.3L726.4 537.3L728.4 537.3L730.4 537.3L732.4 537.3L734.4 537.3L736.4 537.3L738.4 537.3L740.4 537.3L742.4 537.3L744.4 537.3L746.4 537.3L748.4 537.3L750.4 537.3L752.4 537.3L754.4 537.3L756.4 537.3L758.4 537.3L760.5 537.3L762.5 537.3L764.5 537.3L766.5 537.3L768.5 537.3L770.5 537.3L772.5 537.3L774.5 537.3L776.5 537.3L778.5 537.3L780.5 537.4L782.5 537.4L784.5 537.4L786.5 537.4L788.5 537.4L790.5 537.4L792.5 537.4L794.5 537.4L796.5 537.4L798.5 537.5L800.5 537.5L802.5 537.5L804.5 537.5L806.5 537.5L808.6 537.6L810.6 537.6L812.6 537.6L814.6 537.6L816.6 537.7L818.6 537.7L820.6 537.7L822.6 537.8L824.6 537.8L826.6 537.8L828.6 537.9L830.6 537.9L832.6 537.9L834.6 538.0L836.6 538.0L838.6 538.1L840.6 538.1L842.6 538.2L844.6 538.3L846.6 538.3L848.6 538.4L850.6 538.5L852.6 538.6L854.7 538.7L856.7 538.8L858.7 539.0L860.7 539.1L862.7 539.3L864.7 539.5L866.7 539.7L868.7 539.9L870.7 540.2L872.7 540.4L874.7 540.7L876.7 541.1L878.7 541.5L880.7 542.0L882.7 542.5L884.7 543.2L886.7 543.9L888.7 544.7L890.7 545.5L892.7 546.4L894.7 547.3L896.7 548.2L898.7 549.1L900.8 550.1L902.8 551.1L904.8 552.2L906.8 553.3L908.8 554.4L910.8 555.6L912.8 556.8L914.8 558.1L916.8 559.2L918.8 560.4L920.8 561.5L922.8 562.5L924.8 563.4L926.8 564.2L928.8 565.0L930.8 565.7L932.8 566.4L934.8 566.9L936.8 567.4L938.8 567.8L940.8 568.0L942.8 568.2L944.8 568.2L946.9 568.1L948.9 567.8L950.9 567.2L952.9 566.3L954.9 565.1L956.9 563.6L958.9 561.7L960.9 559.6L962.9 557.1L964.9 554.4L966.9 551.5L968.9 548.5" fill="none" stroke="#c00418" stroke-width="5.0" stroke-linecap="round" stroke-linejoin="round"/>
<path d="M552.0 719.8L554.0 719.8L556.0 719.8L558.0 719.8L560.0 719.8L562.0 719.8L564.0 719.8L566.0 719.8L568.0 719.8L570.0 719.8L572.0 719.8L574.0 719.8L576.0 719.8L578.0 719.9L580.0 719.9L582.0 719.9L584.0 719.9L586.0 719.9L588.0 719.9L590.0 719.9L592.0 719.9L594.0 719.9L596.0 719.9L598.0 719.8L599.9 719.8L601.9 719.8L603.9 719.8L605.9 719.8L607.9 719.8L609.9 719.8L611.9 719.8L613.9 719.8L615.9 719.8L617.9 719.8L619.9 719.8L621.9 719.8L623.9 719.7L625.9 719.7L627.9 719.7L629.9 719.7L631.9 719.7L633.9 719.7L635.9 719.6L637.9 719.6L639.9 719.6L641.9 719.6L643.9 719.6L645.9 719.5L647.9 719.5L649.9 719.5L651.9 719.4L653.9 719.4L655.9 719.4L657.9 719.4L659.9 719.3L661.9 719.3L663.9 719.3L665.9 719.3L667.9 719.2L669.9 719.2L671.9 719.2L673.9 719.1L675.9 719.1L677.9 719.1L679.9 719.1L681.9 719.1L683.9 719.0L685.9 719.0L687.9 719.0L689.9 719.0L691.8 719.0L693.8 719.0L695.8 719.0L697.8 719.0L699.8 719.0L701.8 719.0L703.8 719.0L705.8 719.0L707.8 719.0L709.8 719.0L711.8 719.0L713.8 719.1L715.8 719.1L717.8 719.0L719.8 719.0L721.8 719.0L723.8 719.0L725.8 719.0L727.8 718.9L729.8 718.9L731.8 718.8L733.8 718.7L735.8 718.6L737.8 718.5L739.8 718.4L741.8 718.3L743.8 718.1L745.8 718.0L747.8 717.8L749.8 717.6L751.8 717.4L753.8 717.2L755.8 717.0L757.8 716.8L759.8 716.6L761.8 716.4L763.8 716.2L765.8 716.0L767.8 715.8L769.8 715.6L771.8 715.4L773.8 715.2L775.8 715.0L777.8 714.7L779.8 714.5L781.8 714.2L783.8 713.8L785.7 713.5L787.7 713.0L789.7 712.5L791.7 712.0L793.7 711.5L795.7 710.9L797.7 710.3L799.7 709.7L801.7 709.1L803.7 708.4L805.7 707.7L807.7 707.0L809.7 706.3L811.7 705.4L813.7 704.6L815.7 703.6L817.7 702.7L819.7 701.8L821.7 700.8L823.7 699.8L825.7 698.8L827.7 697.8L829.7 696.7L831.7 695.6L833.7 694.5L835.7 693.4L837.7 692.2L839.7 691.0L841.7 689.8L843.7 688.6L845.7 687.3L847.7 686.1L849.7 684.8L851.7 683.5L853.7 682.2L855.7 680.9L857.7 679.6L859.7 678.3L861.7 676.9L863.7 675.5L865.7 674.1L867.7 672.6L869.7 671.1L871.7 669.6L873.7 668.0L875.7 666.4L877.6 664.7L879.6 662.9L881.6 661.1L883.6 659.1L885.6 657.1L887.6 654.9L889.6 652.7L891.6 650.2L893.6 647.7L895.6 645.0L897.6 642.1L899.6 639.1L901.6 635.9L903.6 632.7L905.6 629.4L907.6 626.1L909.6 622.7L911.6 619.4L913.6 616.2L915.6 612.9L917.6 609.7L919.6 606.6L921.6 603.4L923.6 600.3L934.6 591.2L943.0 589.9L952.8 599.0L969.0 649.6" fill="none" stroke="#2d5fa9" stroke-width="5.0" stroke-linecap="round" stroke-linejoin="round"/>
<path d="M75.8 363.2L77.8 363.0L79.8 362.8L81.8 362.6L83.8 362.4L85.8 362.2L87.8 362.0L89.8 361.7L91.8 361.5L93.8 361.3L95.8 361.0L97.8 360.7L99.8 360.4L101.8 360.1L103.8 359.8L105.8 359.4L107.8 359.1L109.8 358.7L111.8 358.3L113.8 357.8L115.8 357.4L117.8 357.0L119.8 356.5L121.8 356.0L123.8 355.5L125.8 354.9L127.8 354.4L129.8 353.8L131.8 353.2L133.8 352.6L135.8 352.0L137.8 351.4L139.8 350.8L141.8 350.2L143.8 349.6L145.8 348.9L147.8 348.2L149.8 347.5L151.8 346.7L153.8 346.0L155.8 345.2L157.8 344.4L159.8 343.6L161.8 342.7L163.8 341.9L165.8 341.0L167.8 340.1L169.8 339.3L171.8 338.4L173.8 337.5L175.8 336.6L177.8 335.7L179.8 334.8L181.8 333.9L183.8 333.0L185.8 332.0L187.8 331.1L189.8 330.2L191.8 329.3L193.8 328.3L195.8 327.4L197.8 326.5L199.8 325.6L201.8 324.8L203.8 324.0L205.8 323.2L207.8 322.4L209.8 321.7L211.8 321.0L213.8 320.4L215.8 319.9L217.8 319.4L219.8 318.9L221.8 318.4L223.8 318.0L225.8 317.5L227.8 317.0L229.8 316.6L231.8 316.1L233.8 315.7L235.8 315.3L237.8 314.8L239.8 314.4L241.8 314.0L243.8 313.7L245.8 313.3L247.8 313.0L249.8 312.7L251.8 312.4L253.8 312.1L255.8 311.9L257.8 311.6L259.8 311.4L261.8 311.2L263.8 311.0L265.8 310.8L267.8 310.6L269.8 310.5L271.8 310.3L273.8 310.2L275.8 310.0L277.8 309.9L279.8 309.8L281.8 309.6L283.8 309.5L285.8 309.4L287.8 309.3L289.8 309.2L291.8 309.1L293.8 309.0L295.8 308.8L297.8 308.7L299.8 308.6L301.8 308.5L303.8 308.4L305.8 308.3L307.8 308.1L309.8 308.0L311.8 307.9L313.8 307.8L315.8 307.7L317.8 307.5L319.8 307.4L321.8 307.3L323.8 307.1L325.8 307.0L327.8 306.8L329.8 306.7L331.8 306.5L333.8 306.3L335.8 306.2L337.6 306.0L337.6 363.7L75.8 363.7Z" fill="#ffffff" fill-opacity="0.9"/>
<line x1="281.9" y1="339.5" x2="337.6" y2="339.5" stroke="#a9a9a9" stroke-width="4.8" stroke-linecap="round"/>
<path d="M75.8 363.2L77.8 363.0L79.8 362.8L81.8 362.6L83.8 362.4L85.8 362.2L87.8 362.0L89.8 361.7L91.8 361.5L93.8 361.3L95.8 361.0L97.8 360.7L99.8 360.4L101.8 360.1L103.8 359.8L105.8 359.4L107.8 359.1L109.8 358.7L111.8 358.3L113.8 357.8L115.8 357.4L117.8 357.0L119.8 356.5L121.8 356.0L123.8 355.5L125.8 354.9L127.8 354.4L129.8 353.8L131.8 353.2L133.8 352.6L135.8 352.0L137.8 351.4L139.8 350.8L141.8 350.2L143.8 349.6L145.8 348.9L147.8 348.2L149.8 347.5L151.8 346.7L153.8 346.0L155.8 345.2L157.8 344.4L159.8 343.6L161.8 342.7L163.8 341.9L165.8 341.0L167.8 340.1L169.8 339.3L171.8 338.4L173.8 337.5L175.8 336.6L177.8 335.7L179.8 334.8L181.8 333.9L183.8 333.0L185.8 332.0L187.8 331.1L189.8 330.2L191.8 329.3L193.8 328.3L195.8 327.4L197.8 326.5L199.8 325.6L201.8 324.8L203.8 324.0L205.8 323.2L207.8 322.4L209.8 321.7L211.8 321.0L213.8 320.4L215.8 319.9L217.8 319.4L219.8 318.9L221.8 318.4L223.8 318.0L225.8 317.5L227.8 317.0L229.8 316.6L231.8 316.1L233.8 315.7L235.8 315.3L237.8 314.8L239.8 314.4L241.8 314.0L243.8 313.7L245.8 313.3L247.8 313.0L249.8 312.7L251.8 312.4L253.8 312.1L255.8 311.9L257.8 311.6L259.8 311.4L261.8 311.2L263.8 311.0L265.8 310.8L267.8 310.6L269.8 310.5L271.8 310.3L273.8 310.2L275.8 310.0L277.8 309.9L279.8 309.8L281.8 309.6L283.8 309.5L285.8 309.4L287.8 309.3L289.8 309.2L291.8 309.1L293.8 309.0L295.8 308.8L297.8 308.7L299.8 308.6L301.8 308.5L303.8 308.4L305.8 308.3L307.8 308.1L309.8 308.0L311.8 307.9L313.8 307.8L315.8 307.7L317.8 307.5L319.8 307.4L321.8 307.3L323.8 307.1L325.8 307.0L327.8 306.8L329.8 306.7L331.8 306.5L333.8 306.3L335.8 306.2L337.6 306.0L337.6 363.7L75.8 363.7Z" fill="url(#hb)"/>
<line x1="75.8" y1="363.7" x2="337.6" y2="363.7" stroke="#969696" stroke-width="1.7"/>
<path d="M552.0 718.8L554.0 718.8L556.0 718.8L558.0 718.8L560.0 718.8L562.0 718.8L564.0 718.8L566.0 718.8L568.0 718.8L570.0 718.8L572.0 718.8L574.0 718.8L576.0 718.8L578.0 718.8L580.0 718.8L582.0 718.8L584.0 718.8L586.0 718.8L588.0 718.8L590.0 718.7L592.0 718.7L594.0 718.7L596.0 718.7L598.0 718.7L600.0 718.7L602.0 718.7L604.0 718.7L605.9 718.7L607.9 718.7L609.9 718.7L611.9 718.7L613.9 718.7L615.9 718.7L617.9 718.7L619.9 718.7L621.9 718.7L623.9 718.7L625.9 718.7L627.9 718.7L629.9 718.7L631.9 718.7L633.9 718.7L635.9 718.7L637.9 718.7L639.9 718.7L641.9 718.6L643.9 718.6L645.9 718.6L647.9 718.6L649.9 718.6L651.9 718.6L653.9 718.6L655.9 718.6L657.9 718.6L659.9 718.6L661.9 718.6L663.9 718.6L665.9 718.6L667.9 718.6L669.9 718.6L671.9 718.6L673.9 718.6L675.9 718.6L677.9 718.5L679.9 718.5L681.9 718.5L683.9 718.5L685.9 718.5L687.9 718.5L689.9 718.5L691.9 718.5L693.9 718.5L695.9 718.5L697.9 718.5L699.9 718.5L701.9 718.5L703.9 718.4L705.9 718.4L707.9 718.4L709.8 718.4L711.8 718.4L713.8 718.4L715.8 718.4L717.8 718.4L719.8 718.4L721.8 718.4L723.8 718.4L725.8 718.4L727.8 718.4L729.8 718.3L731.8 718.3L733.8 718.3L735.8 718.3L737.8 718.3L739.8 718.3L741.8 718.3L743.8 718.3L745.8 718.3L747.8 718.3L749.8 718.3L751.8 718.2L753.8 718.2L755.8 718.2L757.8 718.2L759.8 718.2L761.8 718.2L763.8 718.2L765.8 718.2L767.8 718.2L769.8 718.2L771.8 718.1L773.8 718.1L775.8 718.1L777.8 718.0L779.8 718.0L781.8 717.9L783.8 717.8L785.8 717.7L787.8 717.5L789.8 717.4L791.8 717.2L793.8 717.1L795.8 716.9L797.8 716.7L799.8 716.4L801.8 716.2L803.8 716.0L805.8 715.8L807.8 715.5L809.8 715.3L811.8 715.0L813.7 714.7L815.7 714.5L817.7 714.2L819.7 713.9L821.7 713.6L823.7 713.3L825.7 712.9L827.7 712.6L829.7 712.2L831.7 711.8L833.7 711.3L835.7 710.9L837.7 710.4L839.7 709.9L841.7 709.4L843.7 708.9L845.7 708.4L847.7 707.8L849.7 707.3L851.7 706.7L853.7 706.2L855.7 705.6L857.7 705.0L859.7 704.3L861.7 703.7L863.7 702.9L865.7 702.2L867.7 701.3L869.7 700.4L871.7 699.4L873.7 698.3L875.7 697.1L877.7 695.8L879.7 694.5L881.7 693.0L883.7 691.5L885.7 690.0L887.7 688.5L889.7 687.0L891.7 685.4L893.7 683.8L895.7 682.2L897.7 680.5L899.7 678.8L901.7 677.0L903.7 675.2L905.7 673.3L907.7 671.5L909.7 669.6L911.7 667.7L913.7 665.8L915.7 663.8L917.6 661.7L919.6 659.6L921.6 657.3L923.6 654.9L925.6 652.5L927.6 650.0L929.6 647.6L931.6 645.1L933.6 642.7L935.6 640.3L937.6 638.0L939.6 635.7L941.6 633.4L943.6 631.2L945.6 629.1L947.6 627.0L949.6 625.1L951.6 623.3L953.6 621.6L955.6 620.0L957.6 618.6L959.6 617.3L961.6 616.1L963.6 615.0L965.6 614.0L967.6 613.0L969.6 612.0" fill="none" stroke="#c00418" stroke-width="5.0" stroke-linecap="round" stroke-linejoin="round"/>
<clipPath id="cp8"><path d="M720.0 721.6L722.0 721.5L724.0 721.3L726.0 721.1L728.0 720.9L730.0 720.7L732.0 720.4L734.0 720.2L736.0 719.9L738.0 719.7L740.0 719.4L742.0 719.1L744.0 718.8L746.0 718.4L748.0 718.1L750.0 717.7L752.0 717.4L754.0 717.2L756.0 717.0L758.0 716.8L760.0 716.6L762.0 716.4L764.0 716.2L766.0 716.0L768.0 715.8L770.0 715.6L772.0 715.4L774.0 715.2L776.0 715.0L778.0 714.7L780.0 714.4L782.0 714.1L784.0 713.8L786.0 713.4L788.0 713.0L790.0 712.5L792.0 712.0L794.0 711.4L796.0 710.8L798.0 710.2L800.0 709.6L802.0 709.0L804.0 708.3L806.0 707.7L808.0 706.9L810.0 706.1L812.0 705.3L814.0 704.4L816.0 703.5L818.0 702.6L820.0 701.6L822.0 700.6L824.0 699.7L826.0 698.6L828.0 697.6L830.0 696.6L832.0 695.5L834.0 694.3L836.0 693.2L838.0 692.0L840.0 690.8L842.0 689.6L844.0 688.4L846.0 687.1L848.0 685.9L850.0 684.6L852.0 683.3L854.0 682.0L856.0 680.7L858.0 679.4L860.0 678.0L862.0 676.7L864.0 675.3L866.0 673.9L868.0 672.4L870.0 670.9L872.0 669.3L874.0 667.7L876.0 666.1L878.0 664.4L879.4 663.1L879.4 720.2L720.0 720.2Z"/></clipPath>
<path d="M720.0 721.6L722.0 721.5L724.0 721.3L726.0 721.1L728.0 720.9L730.0 720.7L732.0 720.4L734.0 720.2L736.0 719.9L738.0 719.7L740.0 719.4L742.0 719.1L744.0 718.8L746.0 718.4L748.0 718.1L750.0 717.7L752.0 717.4L754.0 717.2L756.0 717.0L758.0 716.8L760.0 716.6L762.0 716.4L764.0 716.2L766.0 716.0L768.0 715.8L770.0 715.6L772.0 715.4L774.0 715.2L776.0 715.0L778.0 714.7L780.0 714.4L782.0 714.1L784.0 713.8L786.0 713.4L788.0 713.0L790.0 712.5L792.0 712.0L794.0 711.4L796.0 710.8L798.0 710.2L800.0 709.6L802.0 709.0L804.0 708.3L806.0 707.7L808.0 706.9L810.0 706.1L812.0 705.3L814.0 704.4L816.0 703.5L818.0 702.6L820.0 701.6L822.0 700.6L824.0 699.7L826.0 698.6L828.0 697.6L830.0 696.6L832.0 695.5L834.0 694.3L836.0 693.2L838.0 692.0L840.0 690.8L842.0 689.6L844.0 688.4L846.0 687.1L848.0 685.9L850.0 684.6L852.0 683.3L854.0 682.0L856.0 680.7L858.0 679.4L860.0 678.0L862.0 676.7L864.0 675.3L866.0 673.9L868.0 672.4L870.0 670.9L872.0 669.3L874.0 667.7L876.0 666.1L878.0 664.4L879.4 663.1L879.4 720.2L720.0 720.2Z" fill="#ffffff" fill-opacity="0.68"/>
<path d="M716.0 718.4L718.0 718.4L720.0 718.4L722.0 718.4L724.0 718.4L726.0 718.4L728.0 718.3L730.0 718.3L732.0 718.3L734.0 718.3L736.0 718.3L738.0 718.3L740.0 718.3L742.0 718.3L744.0 718.3L746.0 718.3L748.0 718.3L750.0 718.3L752.0 718.2L754.0 718.2L756.0 718.2L758.0 718.2L760.0 718.2L762.0 718.2L764.0 718.2L766.0 718.2L768.0 718.2L770.0 718.2L772.0 718.1L774.0 718.1L776.0 718.1L778.0 718.0L780.0 718.0L782.0 717.9L784.0 717.8L786.0 717.7L788.0 717.5L790.0 717.4L792.0 717.2L794.0 717.0L796.0 716.8L798.0 716.6L800.0 716.4L802.0 716.2L804.0 716.0L806.0 715.7L808.0 715.5L810.0 715.2L812.0 715.0L814.0 714.7L816.0 714.4L818.0 714.2L820.0 713.9L822.0 713.5L824.0 713.2L826.0 712.9L828.0 712.5L830.0 712.1L832.0 711.7L834.0 711.3L836.0 710.8L838.0 710.4L840.0 709.9L842.0 709.4L844.0 708.8L846.0 708.3L848.0 707.8L850.0 707.2L852.0 706.6L854.0 706.1L856.0 705.5L858.0 704.9L860.0 704.2L862.0 703.6L864.0 702.8L866.0 702.0L868.0 701.2L870.0 700.3L872.0 699.2L874.0 698.1L876.0 696.9L878.0 695.6L880.0 694.2L882.0 692.8" fill="none" stroke="#ecae98" stroke-width="5.0" clip-path="url(#cp8)"/>
<path d="M720.0 721.6L722.0 721.5L724.0 721.3L726.0 721.1L728.0 720.9L730.0 720.7L732.0 720.4L734.0 720.2L736.0 719.9L738.0 719.7L740.0 719.4L742.0 719.1L744.0 718.8L746.0 718.4L748.0 718.1L750.0 717.7L752.0 717.4L754.0 717.2L756.0 717.0L758.0 716.8L760.0 716.6L762.0 716.4L764.0 716.2L766.0 716.0L768.0 715.8L770.0 715.6L772.0 715.4L774.0 715.2L776.0 715.0L778.0 714.7L780.0 714.4L782.0 714.1L784.0 713.8L786.0 713.4L788.0 713.0L790.0 712.5L792.0 712.0L794.0 711.4L796.0 710.8L798.0 710.2L800.0 709.6L802.0 709.0L804.0 708.3L806.0 707.7L808.0 706.9L810.0 706.1L812.0 705.3L814.0 704.4L816.0 703.5L818.0 702.6L820.0 701.6L822.0 700.6L824.0 699.7L826.0 698.6L828.0 697.6L830.0 696.6L832.0 695.5L834.0 694.3L836.0 693.2L838.0 692.0L840.0 690.8L842.0 689.6L844.0 688.4L846.0 687.1L848.0 685.9L850.0 684.6L852.0 683.3L854.0 682.0L856.0 680.7L858.0 679.4L860.0 678.0L862.0 676.7L864.0 675.3L866.0 673.9L868.0 672.4L870.0 670.9L872.0 669.3L874.0 667.7L876.0 666.1L878.0 664.4L879.4 663.1L879.4 720.2L720.0 720.2Z" fill="url(#hb2)"/>
<path d="M735.0 718.3L737.0 718.3L739.0 718.3L741.0 718.3L743.0 718.3L745.0 718.3L747.0 718.3L749.0 718.3L751.0 718.3L753.0 718.2L755.0 718.2L757.0 718.2L759.0 718.2L761.0 718.2L763.0 718.2L765.0 718.2L767.0 718.2L769.0 718.2L771.0 718.1L773.0 718.1L775.0 718.1L777.0 718.0L779.0 718.0L781.0 717.9L783.0 717.8L785.0 717.7L787.0 717.6L789.0 717.5L791.0 717.3L793.0 717.1L795.0 716.9L797.0 716.7L799.0 716.5L801.0 716.3L803.0 716.1L805.0 715.8L807.0 715.6L809.0 715.4L811.0 715.1L813.0 714.8L815.0 714.6L817.0 714.3L819.0 714.0L821.0 713.7L823.0 713.4L825.0 713.0L827.0 712.7L829.0 712.3L831.0 711.9L833.0 711.5L835.0 711.1L837.0 710.6L839.0 710.1L841.0 709.6L843.0 709.1L845.0 708.6L847.0 708.0L849.0 707.5L851.0 706.9L853.0 706.4L855.0 705.8L857.0 705.2L859.0 704.6L861.0 703.9L863.0 703.2L865.0 702.4L867.0 701.6L869.0 700.7L871.0 699.8L873.0 698.7L875.0 697.5L877.0 696.3L879.0 694.9L881.0 693.5L883.0 692.0L885.0 690.5L887.0 689.0L889.0 687.5L891.0 685.9L893.0 684.3L895.0 682.7L897.0 681.1L899.0 679.3L901.0 677.6L903.0 675.8L905.0 674.0L907.0 672.1L909.0 670.2L911.0 668.3L913.0 666.4L915.0 664.5L915.6 663.8L915.6 720.2L735 720.2Z" fill="#ffffff" fill-opacity="0.6"/>
<path d="M735.0 718.3L737.0 718.3L739.0 718.3L741.0 718.3L743.0 718.3L745.0 718.3L747.0 718.3L749.0 718.3L751.0 718.3L753.0 718.2L755.0 718.2L757.0 718.2L759.0 718.2L761.0 718.2L763.0 718.2L765.0 718.2L767.0 718.2L769.0 718.2L771.0 718.1L773.0 718.1L775.0 718.1L777.0 718.0L779.0 718.0L781.0 717.9L783.0 717.8L785.0 717.7L787.0 717.6L789.0 717.5L791.0 717.3L793.0 717.1L795.0 716.9L797.0 716.7L799.0 716.5L801.0 716.3L803.0 716.1L805.0 715.8L807.0 715.6L809.0 715.4L811.0 715.1L813.0 714.8L815.0 714.6L817.0 714.3L819.0 714.0L821.0 713.7L823.0 713.4L825.0 713.0L827.0 712.7L829.0 712.3L831.0 711.9L833.0 711.5L835.0 711.1L837.0 710.6L839.0 710.1L841.0 709.6L843.0 709.1L845.0 708.6L847.0 708.0L849.0 707.5L851.0 706.9L853.0 706.4L855.0 705.8L857.0 705.2L859.0 704.6L861.0 703.9L863.0 703.2L865.0 702.4L867.0 701.6L869.0 700.7L871.0 699.8L873.0 698.7L875.0 697.5L877.0 696.3L879.0 694.9L881.0 693.5L883.0 692.0L885.0 690.5L887.0 689.0L889.0 687.5L891.0 685.9L893.0 684.3L895.0 682.7L897.0 681.1L899.0 679.3L901.0 677.6L903.0 675.8L905.0 674.0L907.0 672.1L909.0 670.2L911.0 668.3L913.0 666.4L915.0 664.5L915.6 663.8L915.6 720.2L735 720.2Z" fill="url(#hr)"/>
<path d="M879.4 694.7L880.9 693.6L882.4 692.5L883.9 691.4L885.4 690.2L886.9 689.1L888.4 687.9L889.9 686.8L891.4 685.6L892.9 684.4L894.4 683.2L895.9 682.0L897.4 680.7L898.9 679.4L900.4 678.1L901.9 676.8L903.4 675.4L904.9 674.0L906.4 672.7L907.9 671.3L909.4 669.9L910.9 668.4L912.4 667.0L913.9 665.5L915.4 664.0L916.9 662.5L918.4 660.9L919.9 659.3L921.4 657.6L922.9 655.8L924.4 654.0L925.9 652.2L927.4 650.3L928.9 648.5L930.4 646.6L931.9 644.8L933.4 643.0L934.9 641.2L936.4 639.4L937.9 637.6L939.4 635.9L940.9 634.2L942.4 632.6L943.9 630.9L945.4 629.3L946.9 627.8L948.4 626.3L949.9 624.8L951.4 623.4L952.9 622.1L954.4 620.9L955.9 619.8L957.4 618.8L958.9 617.8L960.4 616.8L961.9 616.0L963.4 615.1L964.9 614.3L966.4 613.6L967.9 612.8L969.4 612.1" fill="none" stroke="#c00418" stroke-width="5.0" stroke-linecap="butt" stroke-linejoin="round"/>
<line x1="720.0" y1="720.2" x2="915.6" y2="720.2" stroke="#969696" stroke-width="1.7"/>
<line x1="75.0" y1="305.8" x2="491" y2="305.8" stroke="#6a6a6a" stroke-width="1.45" stroke-dasharray="18.5 9.7"/>
<line x1="552.8" y1="665.4" x2="748" y2="665.4" stroke="#6a6a6a" stroke-width="1.45" stroke-dasharray="17.9 10.1"/>
<line x1="768.2" y1="665.4" x2="968.8" y2="665.4" stroke="#6a6a6a" stroke-width="1.45" stroke-dasharray="17.4 9.6"/>
<path d="M338.4 328.5L359.8 339.4L338.4 350.3L339.6 339.4Z" fill="#141414"/>
<path d="M795.4 676.0L771.4 688.4L795.4 700.8L793.4 688.4Z" fill="#141414"/>
<text transform="translate(57.3 87.6) scale(0.93 1)" font-size="37" text-anchor="middle" stroke="#1a1a1a" stroke-width="0.35">80</text>
<text transform="translate(54.9 158.2) scale(0.93 1)" font-size="37" text-anchor="middle" stroke="#1a1a1a" stroke-width="0.35">30</text>
<text transform="translate(54.2 216.2) scale(0.93 1)" font-size="37" text-anchor="middle" stroke="#1a1a1a" stroke-width="0.35">0</text>
<text transform="translate(54.2 273.1) scale(0.93 1)" font-size="37" text-anchor="middle" stroke="#1a1a1a" stroke-width="0.35">0</text>
<text transform="translate(51.6 323.2) scale(0.93 1)" font-size="37" text-anchor="middle" stroke="#1a1a1a" stroke-width="0.35">-90</text>
<text transform="translate(43.0 371.5) scale(0.93 1)" font-size="37" text-anchor="middle" stroke="#1a1a1a" stroke-width="0.35">-180</text>
<text transform="translate(53.4 449.6) scale(0.93 1)" font-size="37" text-anchor="middle" stroke="#1a1a1a" stroke-width="0.35">0</text>
<text transform="translate(43.1 572.2) scale(0.93 1)" font-size="37" text-anchor="middle" stroke="#1a1a1a" stroke-width="0.35">-100</text>
<text transform="translate(49.5 627.8) scale(0.93 1)" font-size="37" text-anchor="middle" stroke="#1a1a1a" stroke-width="0.35">90</text>
<text transform="translate(54.2 681.3) scale(0.93 1)" font-size="37" text-anchor="middle" stroke="#1a1a1a" stroke-width="0.35">0</text>
<text transform="translate(57.6 731.5) scale(0.93 1)" font-size="37" text-anchor="middle" stroke="#1a1a1a" stroke-width="0.35">90</text>
<text transform="translate(30.4 731.5) scale(1.0 1)" font-size="34" text-anchor="middle" stroke="#1a1a1a" stroke-width="0.35">–</text>
<text transform="translate(535.9 88.6) scale(0.93 1)" font-size="37" text-anchor="middle" stroke="#1a1a1a" stroke-width="0.35">0</text>
<text transform="translate(522.8 216.0) scale(0.95 1)" font-size="36.6" text-anchor="middle" stroke="#1a1a1a" stroke-width="0.35">-100</text>
<text transform="translate(528.6 253.4) scale(0.93 1)" font-size="37" text-anchor="middle" stroke="#1a1a1a" stroke-width="0.35">120</text>
<text transform="translate(528.0 333.0) scale(0.93 1)" font-size="37" text-anchor="middle" stroke="#1a1a1a" stroke-width="0.35">0</text>
<text transform="translate(528.8 375.0) scale(0.93 1)" font-size="37" text-anchor="middle" stroke="#1a1a1a" stroke-width="0.35">-90</text>
<text transform="translate(534.1 430.6) scale(0.965 1)" font-size="37" text-anchor="middle" stroke="#1a1a1a" stroke-width="0.35">24</text>
<text transform="translate(534.3 502.8) scale(0.965 1)" font-size="37" text-anchor="middle" stroke="#1a1a1a" stroke-width="0.35">20</text>
<text transform="translate(530.6 578.3) scale(0.95 1)" font-size="37" text-anchor="middle" stroke="#1a1a1a" stroke-width="0.35">12</text>
<text transform="translate(535.9 626.3) scale(0.93 1)" font-size="37" text-anchor="middle" stroke="#1a1a1a" stroke-width="0.35">0</text>
<text transform="translate(523.0 680.3) scale(0.93 1)" font-size="37" text-anchor="middle" stroke="#1a1a1a" stroke-width="0.35">-90</text>
<text transform="translate(522.4 731.5) scale(0.955 1)" font-size="37" text-anchor="middle" stroke="#1a1a1a" stroke-width="0.35">-180</text>
<text transform="translate(78.2 404.3) scale(0.955 1)" font-size="36" text-anchor="start" stroke="#1a1a1a" stroke-width="0.35">10</text>
<text transform="translate(112.80000000000001 388.4) scale(0.97 1)" font-size="21" text-anchor="start" stroke="#1a1a1a" stroke-width="0.35">0</text>
<text transform="translate(454.6 404.3) scale(0.955 1)" font-size="36" text-anchor="start" stroke="#1a1a1a" stroke-width="0.35">10</text>
<text transform="translate(489.20000000000005 388.4) scale(0.97 1)" font-size="21" text-anchor="start" stroke="#1a1a1a" stroke-width="0.35">5</text>
<text transform="translate(555.4 404.3) scale(0.955 1)" font-size="36" text-anchor="start" stroke="#1a1a1a" stroke-width="0.35">10</text>
<text transform="translate(590.0 388.4) scale(0.97 1)" font-size="21" text-anchor="start" stroke="#1a1a1a" stroke-width="0.35">0</text>
<text transform="translate(932.2 404.5) scale(0.955 1)" font-size="36" text-anchor="start" stroke="#1a1a1a" stroke-width="0.35">10</text>
<text transform="translate(966.8000000000001 388.6) scale(0.97 1)" font-size="21" text-anchor="start" stroke="#1a1a1a" stroke-width="0.35">5</text>
<text transform="translate(78.8 761.8) scale(0.955 1)" font-size="36" text-anchor="start" stroke="#1a1a1a" stroke-width="0.35">10</text>
<text transform="translate(113.4 745.8) scale(0.97 1)" font-size="21" text-anchor="start" stroke="#1a1a1a" stroke-width="0.35">0</text>
<text transform="translate(454.4 761.8) scale(0.955 1)" font-size="36" text-anchor="start" stroke="#1a1a1a" stroke-width="0.35">10</text>
<text transform="translate(489.0 745.8) scale(0.97 1)" font-size="21" text-anchor="start" stroke="#1a1a1a" stroke-width="0.35">5</text>
<text transform="translate(555.6 761.8) scale(0.955 1)" font-size="36" text-anchor="start" stroke="#1a1a1a" stroke-width="0.35">10</text>
<text transform="translate(590.2 745.8) scale(0.97 1)" font-size="21" text-anchor="start" stroke="#1a1a1a" stroke-width="0.35">0</text>
<text transform="translate(932.0 761.8) scale(0.955 1)" font-size="36" text-anchor="start" stroke="#1a1a1a" stroke-width="0.35">10</text>
<text transform="translate(966.6 745.8) scale(0.97 1)" font-size="21" text-anchor="start" stroke="#1a1a1a" stroke-width="0.35">5</text>
<text x="197.2" y="760.6" font-size="24.5" textLength="180.2" lengthAdjust="spacingAndGlyphs" stroke="#1a1a1a" stroke-width="0.35">Frequency (rad/s)</text>
<text x="689.8" y="760.9" font-size="24.5" textLength="180.2" lengthAdjust="spacingAndGlyphs" stroke="#1a1a1a" stroke-width="0.35">Frequency (rad/s)</text>
<text transform="translate(24.7 220.0) rotate(-90)" font-size="26.6" textLength="166.0" lengthAdjust="spacingAndGlyphs" stroke="#1a1a1a" stroke-width="0.35">Magnitude (dB)</text>
<text transform="translate(24.7 360.6) rotate(-90)" font-size="26.6" textLength="121.0" lengthAdjust="spacingAndGlyphs" stroke="#1a1a1a" stroke-width="0.35">Phase (deg)</text>
<text transform="translate(24.7 558.4) rotate(-90)" font-size="26.6" textLength="166.0" lengthAdjust="spacingAndGlyphs" stroke="#1a1a1a" stroke-width="0.35">Magnitude (dB)</text>
<text transform="translate(24.7 711.0) rotate(-90)" font-size="26.6" textLength="119.4" lengthAdjust="spacingAndGlyphs" stroke="#1a1a1a" stroke-width="0.35">Phase (deg)</text>
<text transform="translate(400.2 92.0) scale(1.12 1)" font-size="35" text-anchor="start" font-style="italic" stroke="#1a1a1a" stroke-width="0.35">Z</text>
<text transform="translate(422.6 100.8) scale(1.0 1)" font-size="21.5" text-anchor="start" font-style="italic" stroke="#1a1a1a" stroke-width="0.35">dd</text>
<text transform="translate(867.8 91.3) scale(1.12 1)" font-size="35" text-anchor="start" font-style="italic" stroke="#1a1a1a" stroke-width="0.35">Z</text>
<text transform="translate(890.6 99.9) scale(1.0 1)" font-size="21.5" text-anchor="start" font-style="italic" stroke="#1a1a1a" stroke-width="0.35">dq</text>
<text transform="translate(394.6 453.0) scale(1.12 1)" font-size="35" text-anchor="start" font-style="italic" stroke="#1a1a1a" stroke-width="0.35">Z</text>
<text transform="translate(416.6 462.3) scale(1.0 1)" font-size="21.5" text-anchor="start" font-style="italic" stroke="#1a1a1a" stroke-width="0.35">qd</text>
<text transform="translate(867.8 445.2) scale(1.12 1)" font-size="35" text-anchor="start" font-style="italic" stroke="#1a1a1a" stroke-width="0.35">Z</text>
<text transform="translate(890.6 455.1) scale(1.0 1)" font-size="21.5" text-anchor="start" font-style="italic" stroke="#1a1a1a" stroke-width="0.35">qq</text>
<text x="350.4" y="332.3" font-size="36" textLength="125.8" lengthAdjust="spacingAndGlyphs" stroke="#1a1a1a" stroke-width="0.35">Unstable</text>
<text x="365.0" y="355.7" font-size="36" textLength="90.8" lengthAdjust="spacingAndGlyphs" stroke="#1a1a1a" stroke-width="0.35">region</text>
<text x="636.0" y="679.9" font-size="36" textLength="127.0" lengthAdjust="spacingAndGlyphs" stroke="#1a1a1a" stroke-width="0.35">Unstable</text>
<text x="651.6" y="703.1" font-size="36" textLength="91.0" lengthAdjust="spacingAndGlyphs" stroke="#1a1a1a" stroke-width="0.35">region</text>
</svg>
</body>
</html>
